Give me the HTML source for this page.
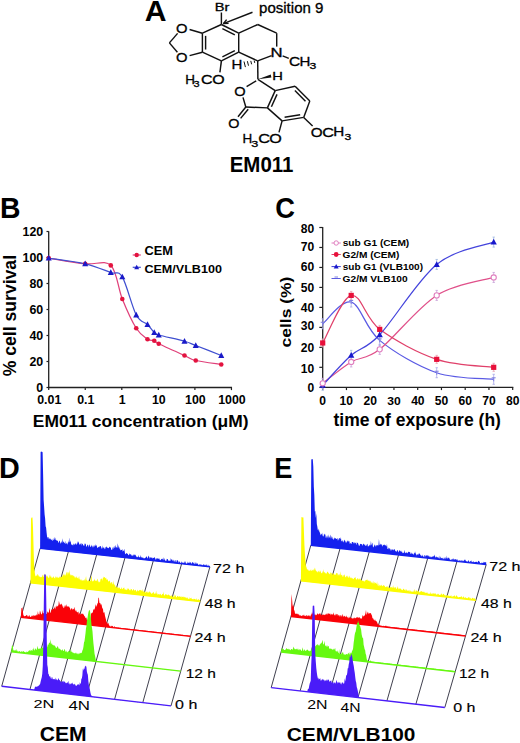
<!DOCTYPE html>
<html><head><meta charset="utf-8"><style>
html,body{margin:0;padding:0;background:#fff;width:520px;height:743px;overflow:hidden}
svg{display:block;font-family:"Liberation Sans", sans-serif}
</style></head><body>
<svg width="520" height="743" viewBox="0 0 520 743">
<rect width="520" height="743" fill="#fff"/>
<text transform="translate(144.75,21.10) scale(1.042,1)" font-size="28.95" font-weight="bold" fill="#000">A</text>
<text transform="translate(214.79,10.50) scale(1.289,1)" font-size="11.35" stroke="#000" stroke-width="0.3" fill="#000">Br</text>
<text transform="translate(259.02,12.71) scale(1.080,1)" font-size="13.94" stroke="#000" stroke-width="0.3" fill="#000">position 9</text>
<text transform="translate(229.72,172.49) scale(0.952,1)" font-size="21.48" font-weight="bold" fill="#000">EM011</text>
<line x1="221.40" y1="24.50" x2="238.70" y2="33.20" stroke="#111" stroke-width="1.45" />
<line x1="238.70" y1="33.20" x2="238.70" y2="52.20" stroke="#111" stroke-width="1.45" />
<line x1="238.70" y1="52.20" x2="221.40" y2="60.90" stroke="#111" stroke-width="1.45" />
<line x1="221.40" y1="60.90" x2="202.40" y2="52.20" stroke="#111" stroke-width="1.45" />
<line x1="202.40" y1="52.20" x2="202.40" y2="33.20" stroke="#111" stroke-width="1.45" />
<line x1="202.40" y1="33.20" x2="221.40" y2="24.50" stroke="#111" stroke-width="1.45" />
<line x1="205.60" y1="35.86" x2="205.60" y2="49.54" stroke="#111" stroke-width="1.45" />
<line x1="222.38" y1="28.58" x2="234.84" y2="34.84" stroke="#111" stroke-width="1.45" />
<line x1="234.84" y1="50.56" x2="222.38" y2="56.82" stroke="#111" stroke-width="1.45" />
<line x1="202.40" y1="33.20" x2="189.60" y2="29.50" stroke="#111" stroke-width="1.45" />
<line x1="202.40" y1="52.20" x2="189.60" y2="55.60" stroke="#111" stroke-width="1.45" />
<line x1="177.60" y1="33.40" x2="169.40" y2="42.90" stroke="#111" stroke-width="1.45" />
<line x1="169.40" y1="42.90" x2="177.40" y2="52.20" stroke="#111" stroke-width="1.45" />
<text transform="translate(175.90,32.67) scale(1.151,1)" font-size="12.86" stroke="#000" stroke-width="0.3" fill="#000">O</text>
<text transform="translate(175.90,61.97) scale(1.151,1)" font-size="12.86" stroke="#000" stroke-width="0.3" fill="#000">O</text>
<line x1="221.40" y1="24.50" x2="221.40" y2="12.50" stroke="#111" stroke-width="1.45" />
<line x1="252.50" y1="12.30" x2="223.40" y2="23.60" stroke="#111" stroke-width="1.45" />
<line x1="223.40" y1="23.60" x2="226.60" y2="19.60" stroke="#111" stroke-width="1.45" />
<line x1="223.40" y1="23.60" x2="228.60" y2="23.40" stroke="#111" stroke-width="1.45" />
<line x1="221.40" y1="60.90" x2="219.90" y2="72.30" stroke="#111" stroke-width="1.45" />
<text transform="translate(185.19,84.20) scale(1.085,1)" font-size="12.40" stroke="#000" stroke-width="0.3">H</text>
<text transform="translate(193.59,87.10) scale(1.190,1)" font-size="9.20" stroke="#000" stroke-width="0.3">3</text>
<text transform="translate(201.09,84.30) scale(1.301,1)" font-size="12.40" stroke="#000" stroke-width="0.3">C</text>
<text transform="translate(212.14,84.35) scale(1.288,1)" font-size="12.40" stroke="#000" stroke-width="0.3">O</text>
<line x1="238.70" y1="33.20" x2="257.70" y2="24.50" stroke="#111" stroke-width="1.45" />
<line x1="257.70" y1="24.50" x2="276.70" y2="33.20" stroke="#111" stroke-width="1.45" />
<line x1="276.70" y1="33.20" x2="276.70" y2="46.60" stroke="#111" stroke-width="1.45" />
<text transform="translate(270.52,56.70) scale(1.334,1)" font-size="12.51" stroke="#000" stroke-width="0.3" fill="#000">N</text>
<line x1="271.60" y1="55.60" x2="257.70" y2="60.90" stroke="#111" stroke-width="1.45" />
<line x1="238.70" y1="52.20" x2="257.70" y2="60.90" stroke="#111" stroke-width="1.45" />
<line x1="282.60" y1="55.80" x2="288.80" y2="58.40" stroke="#111" stroke-width="1.45" />
<text transform="translate(289.03,66.10) scale(1.250,1)" font-size="12.40" stroke="#000" stroke-width="0.3">C</text>
<text transform="translate(299.56,66.00) scale(1.215,1)" font-size="12.40" stroke="#000" stroke-width="0.3">H</text>
<text transform="translate(309.54,68.80) scale(1.327,1)" font-size="9.20" stroke="#000" stroke-width="0.3">3</text>
<line x1="254.16" y1="60.60" x2="254.74" y2="62.90" stroke="#111" stroke-width="1.0" />
<line x1="250.77" y1="60.90" x2="251.62" y2="64.30" stroke="#111" stroke-width="1.0" />
<line x1="247.39" y1="61.20" x2="248.51" y2="65.70" stroke="#111" stroke-width="1.0" />
<line x1="244.00" y1="61.50" x2="245.40" y2="67.10" stroke="#111" stroke-width="1.0" />
<text transform="translate(231.56,69.30) scale(1.177,1)" font-size="12.80" stroke="#000" stroke-width="0.3" fill="#000">H</text>
<line x1="257.70" y1="60.90" x2="257.90" y2="79.30" stroke="#111" stroke-width="1.45" />
<polygon points="257.9,79.3 270.8,74.4 271.4,77.6" fill="#111"/>
<text transform="translate(272.29,79.90) scale(1.248,1)" font-size="11.78" stroke="#000" stroke-width="0.3" fill="#000">H</text>
<line x1="256.20" y1="80.80" x2="246.60" y2="86.60" stroke="#111" stroke-width="1.45" />
<text transform="translate(234.30,95.67) scale(1.127,1)" font-size="13.00" stroke="#000" stroke-width="0.3" fill="#000">O</text>
<line x1="243.00" y1="97.40" x2="245.80" y2="107.00" stroke="#111" stroke-width="1.45" />
<line x1="245.80" y1="107.00" x2="267.40" y2="107.90" stroke="#111" stroke-width="1.45" />
<line x1="245.80" y1="107.00" x2="238.00" y2="116.70" stroke="#111" stroke-width="1.45" />
<line x1="248.20" y1="109.20" x2="240.60" y2="118.40" stroke="#111" stroke-width="1.45" />
<text transform="translate(228.32,127.57) scale(1.141,1)" font-size="12.58" stroke="#000" stroke-width="0.3" fill="#000">O</text>
<line x1="275.20" y1="90.60" x2="295.10" y2="86.20" stroke="#111" stroke-width="1.45" />
<line x1="295.10" y1="86.20" x2="309.80" y2="101.00" stroke="#111" stroke-width="1.45" />
<line x1="309.80" y1="101.00" x2="303.70" y2="117.40" stroke="#111" stroke-width="1.45" />
<line x1="303.70" y1="117.40" x2="282.10" y2="120.90" stroke="#111" stroke-width="1.45" />
<line x1="282.10" y1="120.90" x2="267.40" y2="107.90" stroke="#111" stroke-width="1.45" />
<line x1="267.40" y1="107.90" x2="275.20" y2="90.60" stroke="#111" stroke-width="1.45" />
<line x1="271.41" y1="106.79" x2="277.03" y2="94.34" stroke="#111" stroke-width="1.45" />
<line x1="294.89" y1="90.53" x2="305.47" y2="101.18" stroke="#111" stroke-width="1.45" />
<line x1="300.16" y1="114.73" x2="284.61" y2="117.25" stroke="#111" stroke-width="1.45" />
<line x1="257.90" y1="79.30" x2="275.20" y2="90.60" stroke="#111" stroke-width="1.45" />
<line x1="282.10" y1="120.90" x2="279.00" y2="132.40" stroke="#111" stroke-width="1.45" />
<text transform="translate(242.39,143.30) scale(1.085,1)" font-size="12.40" stroke="#000" stroke-width="0.3">H</text>
<text transform="translate(251.13,146.70) scale(1.373,1)" font-size="9.20" stroke="#000" stroke-width="0.3">3</text>
<text transform="translate(258.18,143.40) scale(1.326,1)" font-size="12.40" stroke="#000" stroke-width="0.3">C</text>
<text transform="translate(269.23,143.45) scale(1.300,1)" font-size="12.40" stroke="#000" stroke-width="0.3">O</text>
<line x1="303.70" y1="117.40" x2="312.60" y2="126.00" stroke="#111" stroke-width="1.45" />
<text transform="translate(310.78,136.60) scale(1.229,1)" font-size="12.40" stroke="#000" stroke-width="0.3">O</text>
<text transform="translate(322.19,136.50) scale(1.313,1)" font-size="12.40" stroke="#000" stroke-width="0.3">C</text>
<text transform="translate(333.34,136.30) scale(1.230,1)" font-size="12.40" stroke="#000" stroke-width="0.3">H</text>
<text transform="translate(344.54,139.80) scale(1.327,1)" font-size="9.20" stroke="#000" stroke-width="0.3">3</text>
<text transform="translate(0.09,218.10) scale(0.951,1)" font-size="29.82" font-weight="bold" fill="#000">B</text>
<line x1="48.70" y1="231.20" x2="48.70" y2="388.10" stroke="#222" stroke-width="1.3" />
<line x1="48.10" y1="387.50" x2="232.05" y2="387.50" stroke="#222" stroke-width="1.3" />
<line x1="46.50" y1="387.50" x2="48.70" y2="387.50" stroke="#222" stroke-width="1.2" />
<text transform="translate(36.31,391.97) scale(0.986,1)" font-size="12.58" font-weight="bold" fill="#000">0</text>
<line x1="46.50" y1="361.50" x2="48.70" y2="361.50" stroke="#222" stroke-width="1.2" />
<text transform="translate(29.43,365.97) scale(0.986,1)" font-size="12.58" font-weight="bold" fill="#000">20</text>
<line x1="46.50" y1="335.50" x2="48.70" y2="335.50" stroke="#222" stroke-width="1.2" />
<text transform="translate(29.43,339.97) scale(0.986,1)" font-size="12.58" font-weight="bold" fill="#000">40</text>
<line x1="46.50" y1="309.50" x2="48.70" y2="309.50" stroke="#222" stroke-width="1.2" />
<text transform="translate(29.43,313.97) scale(0.986,1)" font-size="12.58" font-weight="bold" fill="#000">60</text>
<line x1="46.50" y1="283.50" x2="48.70" y2="283.50" stroke="#222" stroke-width="1.2" />
<text transform="translate(29.43,287.97) scale(0.986,1)" font-size="12.58" font-weight="bold" fill="#000">80</text>
<line x1="46.50" y1="257.50" x2="48.70" y2="257.50" stroke="#222" stroke-width="1.2" />
<text transform="translate(22.52,261.97) scale(0.986,1)" font-size="12.58" font-weight="bold" fill="#000">100</text>
<line x1="46.50" y1="231.50" x2="48.70" y2="231.50" stroke="#222" stroke-width="1.2" />
<text transform="translate(22.52,235.97) scale(0.986,1)" font-size="12.58" font-weight="bold" fill="#000">120</text>
<line x1="48.70" y1="387.50" x2="48.70" y2="390.10" stroke="#222" stroke-width="1.2" />
<text transform="translate(37.16,404.27) scale(0.986,1)" font-size="12.58" font-weight="bold" fill="#000">0.01</text>
<line x1="85.25" y1="387.50" x2="85.25" y2="390.10" stroke="#222" stroke-width="1.2" />
<text transform="translate(77.15,404.27) scale(0.986,1)" font-size="12.58" font-weight="bold" fill="#000">0.1</text>
<line x1="121.80" y1="387.50" x2="121.80" y2="390.10" stroke="#222" stroke-width="1.2" />
<text transform="translate(118.74,404.40) scale(0.958,1)" font-size="12.95" font-weight="bold" fill="#000">1</text>
<line x1="158.35" y1="387.50" x2="158.35" y2="390.10" stroke="#222" stroke-width="1.2" />
<text transform="translate(151.93,404.27) scale(0.986,1)" font-size="12.58" font-weight="bold" fill="#000">10</text>
<line x1="194.90" y1="387.50" x2="194.90" y2="390.10" stroke="#222" stroke-width="1.2" />
<text transform="translate(185.02,404.27) scale(0.986,1)" font-size="12.58" font-weight="bold" fill="#000">100</text>
<line x1="231.45" y1="387.50" x2="231.45" y2="390.10" stroke="#222" stroke-width="1.2" />
<text transform="translate(218.13,404.27) scale(0.986,1)" font-size="12.58" font-weight="bold" fill="#000">1000</text>
<text transform="translate(32.82,427.40) scale(1.003,1)" font-size="17.37" font-weight="bold" fill="#000">EM011 concentration (μM)</text>
<text transform="translate(15.92,376.34) rotate(-90) scale(0.981,1)" font-size="17.96" font-weight="bold" fill="#000">% cell survival</text>
<path d="M48.70,258.10 C54.78,259.05 74.85,262.58 85.20,263.80 C95.55,265.02 104.62,259.53 110.80,265.40 C116.98,271.27 118.06,288.52 122.30,299.00 C126.54,309.48 132.05,321.54 136.25,328.25 C140.45,334.96 144.50,337.17 147.50,339.25 C150.50,341.33 152.38,340.00 154.25,340.75 C156.12,341.50 153.71,341.29 158.75,343.75 C163.79,346.21 178.33,352.71 184.50,355.50 C190.67,358.29 189.62,359.00 195.75,360.50 C201.88,362.00 217.00,363.83 221.25,364.50" fill="none" stroke="#e0407a" stroke-width="1.25"/>
<path d="M48.70,258.10 C54.78,259.05 74.85,261.40 85.20,263.80 C95.55,266.20 104.62,270.32 110.80,272.50 C116.98,274.68 118.06,269.82 122.30,276.90 C126.54,283.98 132.05,307.07 136.25,315.00 C140.45,322.93 144.50,321.58 147.50,324.50 C150.50,327.42 152.38,330.75 154.25,332.50 C156.12,334.25 153.71,333.54 158.75,335.00 C163.79,336.46 178.33,339.50 184.50,341.25 C190.67,343.00 189.62,343.12 195.75,345.50 C201.88,347.88 217.00,353.83 221.25,355.50" fill="none" stroke="#3f4fd0" stroke-width="1.25"/>
<circle cx="48.70" cy="258.10" r="2.3" fill="#e3133f"/>
<circle cx="85.20" cy="263.80" r="2.3" fill="#e3133f"/>
<circle cx="110.80" cy="265.40" r="2.3" fill="#e3133f"/>
<circle cx="122.30" cy="299.00" r="2.3" fill="#e3133f"/>
<circle cx="136.25" cy="328.25" r="2.3" fill="#e3133f"/>
<circle cx="147.50" cy="339.25" r="2.3" fill="#e3133f"/>
<circle cx="154.25" cy="340.75" r="2.3" fill="#e3133f"/>
<circle cx="158.75" cy="343.75" r="2.3" fill="#e3133f"/>
<circle cx="184.50" cy="355.50" r="2.3" fill="#e3133f"/>
<circle cx="195.75" cy="360.50" r="2.3" fill="#e3133f"/>
<circle cx="221.25" cy="364.50" r="2.3" fill="#e3133f"/>
<polygon points="48.70,254.90 51.74,260.50 45.66,260.50" fill="#1a1ac8"/>
<polygon points="85.20,260.60 88.24,266.20 82.16,266.20" fill="#1a1ac8"/>
<polygon points="110.80,269.30 113.84,274.90 107.76,274.90" fill="#1a1ac8"/>
<polygon points="122.30,273.70 125.34,279.30 119.26,279.30" fill="#1a1ac8"/>
<polygon points="136.25,311.80 139.29,317.40 133.21,317.40" fill="#1a1ac8"/>
<polygon points="147.50,321.30 150.54,326.90 144.46,326.90" fill="#1a1ac8"/>
<polygon points="154.25,329.30 157.29,334.90 151.21,334.90" fill="#1a1ac8"/>
<polygon points="158.75,331.80 161.79,337.40 155.71,337.40" fill="#1a1ac8"/>
<polygon points="184.50,338.05 187.54,343.65 181.46,343.65" fill="#1a1ac8"/>
<polygon points="195.75,342.30 198.79,347.90 192.71,347.90" fill="#1a1ac8"/>
<polygon points="221.25,352.30 224.29,357.90 218.21,357.90" fill="#1a1ac8"/>
<line x1="132.70" y1="255.00" x2="140.80" y2="255.00" stroke="#e0407a" stroke-width="1.2" />
<circle cx="136.70" cy="255.00" r="2.2" fill="#e3133f"/>
<line x1="132.70" y1="267.30" x2="140.80" y2="267.30" stroke="#3f4fd0" stroke-width="1.2" />
<polygon points="136.70,264.70 139.17,269.25 134.23,269.25" fill="#1a1ac8"/>
<text transform="translate(144.39,254.88) scale(1.067,1)" font-size="12.01" font-weight="bold" fill="#000">CEM</text>
<text transform="translate(144.40,272.56) scale(1.065,1)" font-size="11.81" font-weight="bold" fill="#000">CEM/VLB100</text>
<text transform="translate(275.21,218.40) scale(0.916,1)" font-size="29.82" font-weight="bold" fill="#000">C</text>
<line x1="322.70" y1="227.10" x2="322.70" y2="387.90" stroke="#222" stroke-width="1.3" />
<line x1="322.10" y1="387.30" x2="513.30" y2="387.30" stroke="#222" stroke-width="1.3" />
<line x1="319.30" y1="387.30" x2="322.70" y2="387.30" stroke="#222" stroke-width="1.2" />
<text transform="translate(307.57,391.88) scale(0.995,1)" font-size="12.16" font-weight="bold" fill="#000">0</text>
<line x1="319.30" y1="367.32" x2="322.70" y2="367.32" stroke="#222" stroke-width="1.2" />
<text transform="translate(300.85,372.83) scale(0.995,1)" font-size="12.16" font-weight="bold" fill="#000">10</text>
<line x1="319.30" y1="347.35" x2="322.70" y2="347.35" stroke="#222" stroke-width="1.2" />
<text transform="translate(300.85,352.38) scale(0.995,1)" font-size="12.16" font-weight="bold" fill="#000">20</text>
<line x1="319.30" y1="327.38" x2="322.70" y2="327.38" stroke="#222" stroke-width="1.2" />
<text transform="translate(300.85,330.45) scale(0.999,1)" font-size="12.11" font-weight="bold" fill="#000">30</text>
<line x1="319.30" y1="307.40" x2="322.70" y2="307.40" stroke="#222" stroke-width="1.2" />
<text transform="translate(300.85,312.28) scale(0.995,1)" font-size="12.16" font-weight="bold" fill="#000">40</text>
<line x1="319.30" y1="287.43" x2="322.70" y2="287.43" stroke="#222" stroke-width="1.2" />
<text transform="translate(300.85,291.68) scale(0.995,1)" font-size="12.16" font-weight="bold" fill="#000">50</text>
<line x1="319.30" y1="267.45" x2="322.70" y2="267.45" stroke="#222" stroke-width="1.2" />
<text transform="translate(300.85,271.13) scale(0.995,1)" font-size="12.16" font-weight="bold" fill="#000">60</text>
<line x1="319.30" y1="247.47" x2="322.70" y2="247.47" stroke="#222" stroke-width="1.2" />
<text transform="translate(300.85,251.48) scale(0.995,1)" font-size="12.16" font-weight="bold" fill="#000">70</text>
<line x1="319.30" y1="227.50" x2="322.70" y2="227.50" stroke="#222" stroke-width="1.2" />
<text transform="translate(300.85,232.63) scale(0.995,1)" font-size="12.16" font-weight="bold" fill="#000">80</text>
<line x1="322.70" y1="387.30" x2="322.70" y2="390.10" stroke="#222" stroke-width="1.2" />
<text transform="translate(319.34,404.88) scale(1.019,1)" font-size="11.87" font-weight="bold" fill="#000">0</text>
<line x1="346.45" y1="387.30" x2="346.45" y2="390.10" stroke="#222" stroke-width="1.2" />
<text transform="translate(339.60,404.88) scale(1.019,1)" font-size="11.87" font-weight="bold" fill="#000">10</text>
<line x1="370.20" y1="387.30" x2="370.20" y2="390.10" stroke="#222" stroke-width="1.2" />
<text transform="translate(363.51,404.88) scale(1.019,1)" font-size="11.87" font-weight="bold" fill="#000">20</text>
<line x1="393.95" y1="387.30" x2="393.95" y2="390.10" stroke="#222" stroke-width="1.2" />
<text transform="translate(387.34,404.85) scale(1.023,1)" font-size="11.83" font-weight="bold" fill="#000">30</text>
<line x1="417.70" y1="387.30" x2="417.70" y2="390.10" stroke="#222" stroke-width="1.2" />
<text transform="translate(411.14,404.88) scale(1.019,1)" font-size="11.87" font-weight="bold" fill="#000">40</text>
<line x1="441.45" y1="387.30" x2="441.45" y2="390.10" stroke="#222" stroke-width="1.2" />
<text transform="translate(434.78,404.88) scale(1.019,1)" font-size="11.87" font-weight="bold" fill="#000">50</text>
<line x1="465.20" y1="387.30" x2="465.20" y2="390.10" stroke="#222" stroke-width="1.2" />
<text transform="translate(458.50,404.88) scale(1.019,1)" font-size="11.87" font-weight="bold" fill="#000">60</text>
<line x1="488.95" y1="387.30" x2="488.95" y2="390.10" stroke="#222" stroke-width="1.2" />
<text transform="translate(482.22,404.88) scale(1.019,1)" font-size="11.87" font-weight="bold" fill="#000">70</text>
<line x1="512.70" y1="387.30" x2="512.70" y2="390.10" stroke="#222" stroke-width="1.2" />
<text transform="translate(506.03,404.88) scale(1.019,1)" font-size="11.87" font-weight="bold" fill="#000">80</text>
<text transform="translate(333.48,425.85) scale(0.997,1)" font-size="17.59" font-weight="bold" fill="#000">time of exposure (h)</text>
<text transform="translate(291.06,347.40) rotate(-90) scale(1.155,1)" font-size="15.12" font-weight="bold" fill="#000">cells (%)</text>
<path d="M322.70,323.78 C327.45,320.15 341.70,299.24 351.20,302.01 C360.70,304.77 365.45,328.57 379.70,340.36 C393.95,352.14 417.70,366.23 436.70,372.72 C455.70,379.21 484.20,378.21 493.70,379.31" fill="none" stroke="#5a5ae4" stroke-width="1.25"/>
<path d="M322.70,383.31 C327.45,379.74 341.70,367.59 351.20,361.93 C360.70,356.27 365.45,360.43 379.70,349.35 C393.95,338.26 417.70,307.40 436.70,295.42 C455.70,283.43 484.20,280.43 493.70,277.44" fill="none" stroke="#e0508a" stroke-width="1.25"/>
<path d="M322.70,342.96 C327.45,335.03 341.70,297.68 351.20,295.42 C360.70,293.15 365.45,318.72 379.70,329.37 C393.95,340.03 417.70,353.01 436.70,359.34 C455.70,365.66 484.20,365.99 493.70,367.32" fill="none" stroke="#e0406a" stroke-width="1.25"/>
<path d="M322.70,385.30 C327.45,380.31 341.70,363.76 351.20,355.34 C360.70,346.92 365.45,349.91 379.70,334.77 C393.95,319.62 417.70,279.90 436.70,264.45 C455.70,249.01 484.20,245.81 493.70,242.08" fill="none" stroke="#4444dc" stroke-width="1.25"/>
<line x1="322.70" y1="378.31" x2="322.70" y2="388.31" stroke="#c8a0d8" stroke-width="0.8" />
<line x1="321.50" y1="378.31" x2="323.90" y2="378.31" stroke="#c8a0d8" stroke-width="0.8" />
<line x1="321.50" y1="388.31" x2="323.90" y2="388.31" stroke="#c8a0d8" stroke-width="0.8" />
<line x1="351.20" y1="356.93" x2="351.20" y2="366.93" stroke="#c8a0d8" stroke-width="0.8" />
<line x1="350.00" y1="356.93" x2="352.40" y2="356.93" stroke="#c8a0d8" stroke-width="0.8" />
<line x1="350.00" y1="366.93" x2="352.40" y2="366.93" stroke="#c8a0d8" stroke-width="0.8" />
<line x1="379.70" y1="344.35" x2="379.70" y2="354.35" stroke="#c8a0d8" stroke-width="0.8" />
<line x1="378.50" y1="344.35" x2="380.90" y2="344.35" stroke="#c8a0d8" stroke-width="0.8" />
<line x1="378.50" y1="354.35" x2="380.90" y2="354.35" stroke="#c8a0d8" stroke-width="0.8" />
<line x1="436.70" y1="290.42" x2="436.70" y2="300.42" stroke="#c8a0d8" stroke-width="0.8" />
<line x1="435.50" y1="290.42" x2="437.90" y2="290.42" stroke="#c8a0d8" stroke-width="0.8" />
<line x1="435.50" y1="300.42" x2="437.90" y2="300.42" stroke="#c8a0d8" stroke-width="0.8" />
<line x1="493.70" y1="272.44" x2="493.70" y2="282.44" stroke="#c8a0d8" stroke-width="0.8" />
<line x1="492.50" y1="272.44" x2="494.90" y2="272.44" stroke="#c8a0d8" stroke-width="0.8" />
<line x1="492.50" y1="282.44" x2="494.90" y2="282.44" stroke="#c8a0d8" stroke-width="0.8" />
<line x1="322.70" y1="318.78" x2="322.70" y2="328.78" stroke="#a8a8e8" stroke-width="0.8" />
<line x1="321.50" y1="318.78" x2="323.90" y2="318.78" stroke="#a8a8e8" stroke-width="0.8" />
<line x1="321.50" y1="328.78" x2="323.90" y2="328.78" stroke="#a8a8e8" stroke-width="0.8" />
<line x1="351.20" y1="297.01" x2="351.20" y2="307.01" stroke="#a8a8e8" stroke-width="0.8" />
<line x1="350.00" y1="297.01" x2="352.40" y2="297.01" stroke="#a8a8e8" stroke-width="0.8" />
<line x1="350.00" y1="307.01" x2="352.40" y2="307.01" stroke="#a8a8e8" stroke-width="0.8" />
<line x1="379.70" y1="335.36" x2="379.70" y2="345.36" stroke="#a8a8e8" stroke-width="0.8" />
<line x1="378.50" y1="335.36" x2="380.90" y2="335.36" stroke="#a8a8e8" stroke-width="0.8" />
<line x1="378.50" y1="345.36" x2="380.90" y2="345.36" stroke="#a8a8e8" stroke-width="0.8" />
<line x1="436.70" y1="367.72" x2="436.70" y2="377.72" stroke="#a8a8e8" stroke-width="0.8" />
<line x1="435.50" y1="367.72" x2="437.90" y2="367.72" stroke="#a8a8e8" stroke-width="0.8" />
<line x1="435.50" y1="377.72" x2="437.90" y2="377.72" stroke="#a8a8e8" stroke-width="0.8" />
<line x1="493.70" y1="374.31" x2="493.70" y2="384.31" stroke="#a8a8e8" stroke-width="0.8" />
<line x1="492.50" y1="374.31" x2="494.90" y2="374.31" stroke="#a8a8e8" stroke-width="0.8" />
<line x1="492.50" y1="384.31" x2="494.90" y2="384.31" stroke="#a8a8e8" stroke-width="0.8" />
<line x1="322.70" y1="380.30" x2="322.70" y2="390.30" stroke="#a0b8e0" stroke-width="0.8" />
<line x1="321.50" y1="380.30" x2="323.90" y2="380.30" stroke="#a0b8e0" stroke-width="0.8" />
<line x1="321.50" y1="390.30" x2="323.90" y2="390.30" stroke="#a0b8e0" stroke-width="0.8" />
<line x1="351.20" y1="350.34" x2="351.20" y2="360.34" stroke="#a0b8e0" stroke-width="0.8" />
<line x1="350.00" y1="350.34" x2="352.40" y2="350.34" stroke="#a0b8e0" stroke-width="0.8" />
<line x1="350.00" y1="360.34" x2="352.40" y2="360.34" stroke="#a0b8e0" stroke-width="0.8" />
<line x1="379.70" y1="329.77" x2="379.70" y2="339.77" stroke="#a0b8e0" stroke-width="0.8" />
<line x1="378.50" y1="329.77" x2="380.90" y2="329.77" stroke="#a0b8e0" stroke-width="0.8" />
<line x1="378.50" y1="339.77" x2="380.90" y2="339.77" stroke="#a0b8e0" stroke-width="0.8" />
<line x1="436.70" y1="259.45" x2="436.70" y2="269.45" stroke="#a0b8e0" stroke-width="0.8" />
<line x1="435.50" y1="259.45" x2="437.90" y2="259.45" stroke="#a0b8e0" stroke-width="0.8" />
<line x1="435.50" y1="269.45" x2="437.90" y2="269.45" stroke="#a0b8e0" stroke-width="0.8" />
<line x1="493.70" y1="237.08" x2="493.70" y2="247.08" stroke="#a0b8e0" stroke-width="0.8" />
<line x1="492.50" y1="237.08" x2="494.90" y2="237.08" stroke="#a0b8e0" stroke-width="0.8" />
<line x1="492.50" y1="247.08" x2="494.90" y2="247.08" stroke="#a0b8e0" stroke-width="0.8" />
<line x1="322.70" y1="338.96" x2="322.70" y2="346.96" stroke="#e8a0b0" stroke-width="0.8" />
<line x1="321.50" y1="338.96" x2="323.90" y2="338.96" stroke="#e8a0b0" stroke-width="0.8" />
<line x1="321.50" y1="346.96" x2="323.90" y2="346.96" stroke="#e8a0b0" stroke-width="0.8" />
<line x1="351.20" y1="291.42" x2="351.20" y2="299.42" stroke="#e8a0b0" stroke-width="0.8" />
<line x1="350.00" y1="291.42" x2="352.40" y2="291.42" stroke="#e8a0b0" stroke-width="0.8" />
<line x1="350.00" y1="299.42" x2="352.40" y2="299.42" stroke="#e8a0b0" stroke-width="0.8" />
<line x1="379.70" y1="325.37" x2="379.70" y2="333.37" stroke="#e8a0b0" stroke-width="0.8" />
<line x1="378.50" y1="325.37" x2="380.90" y2="325.37" stroke="#e8a0b0" stroke-width="0.8" />
<line x1="378.50" y1="333.37" x2="380.90" y2="333.37" stroke="#e8a0b0" stroke-width="0.8" />
<line x1="436.70" y1="355.34" x2="436.70" y2="363.34" stroke="#e8a0b0" stroke-width="0.8" />
<line x1="435.50" y1="355.34" x2="437.90" y2="355.34" stroke="#e8a0b0" stroke-width="0.8" />
<line x1="435.50" y1="363.34" x2="437.90" y2="363.34" stroke="#e8a0b0" stroke-width="0.8" />
<line x1="493.70" y1="363.32" x2="493.70" y2="371.32" stroke="#e8a0b0" stroke-width="0.8" />
<line x1="492.50" y1="363.32" x2="494.90" y2="363.32" stroke="#e8a0b0" stroke-width="0.8" />
<line x1="492.50" y1="371.32" x2="494.90" y2="371.32" stroke="#e8a0b0" stroke-width="0.8" />
<rect x="320.10" y="340.36" width="5.2" height="5.2" fill="#e8103a"/>
<rect x="348.60" y="292.81" width="5.2" height="5.2" fill="#e8103a"/>
<rect x="377.10" y="326.77" width="5.2" height="5.2" fill="#e8103a"/>
<rect x="434.10" y="356.74" width="5.2" height="5.2" fill="#e8103a"/>
<rect x="491.10" y="364.72" width="5.2" height="5.2" fill="#e8103a"/>
<polygon points="322.70,382.00 325.83,387.78 319.56,387.78" fill="#1818cc"/>
<polygon points="351.20,352.04 354.33,357.82 348.06,357.82" fill="#1818cc"/>
<polygon points="379.70,331.47 382.83,337.24 376.56,337.24" fill="#1818cc"/>
<polygon points="436.70,261.15 439.83,266.93 433.56,266.93" fill="#1818cc"/>
<polygon points="493.70,238.78 496.83,244.56 490.56,244.56" fill="#1818cc"/>
<circle cx="322.70" cy="383.31" r="2.6" fill="#fff" stroke="#e080c0" stroke-width="1.1"/>
<circle cx="351.20" cy="361.93" r="2.6" fill="#fff" stroke="#e080c0" stroke-width="1.1"/>
<circle cx="379.70" cy="349.35" r="2.6" fill="#fff" stroke="#e080c0" stroke-width="1.1"/>
<circle cx="436.70" cy="295.42" r="2.6" fill="#fff" stroke="#e080c0" stroke-width="1.1"/>
<circle cx="493.70" cy="277.44" r="2.6" fill="#fff" stroke="#e080c0" stroke-width="1.1"/>
<path d="M320.70,322.28 L324.70,322.28 M322.70,322.28 L322.70,325.78" stroke="#8080e0" stroke-width="1"/>
<path d="M349.20,300.51 L353.20,300.51 M351.20,300.51 L351.20,304.01" stroke="#8080e0" stroke-width="1"/>
<path d="M377.70,338.86 L381.70,338.86 M379.70,338.86 L379.70,342.36" stroke="#8080e0" stroke-width="1"/>
<path d="M434.70,371.22 L438.70,371.22 M436.70,371.22 L436.70,374.72" stroke="#8080e0" stroke-width="1"/>
<path d="M491.70,377.81 L495.70,377.81 M493.70,377.81 L493.70,381.31" stroke="#8080e0" stroke-width="1"/>
<line x1="331.50" y1="243.00" x2="340.80" y2="243.00" stroke="#e080c0" stroke-width="1.0" />
<circle cx="336.2" cy="243.0" r="2.2" fill="#fff" stroke="#e080c0" stroke-width="1"/>
<line x1="331.50" y1="254.50" x2="340.80" y2="254.50" stroke="#e0406a" stroke-width="1.0" />
<circle cx="336.2" cy="254.5" r="2.4" fill="#e8103a"/>
<line x1="331.50" y1="266.60" x2="340.80" y2="266.60" stroke="#3a3ad8" stroke-width="1.0" />
<polygon points="336.20,264.00 338.67,268.55 333.73,268.55" fill="#1818cc"/>
<line x1="331.50" y1="278.50" x2="340.80" y2="278.50" stroke="#5a5ae0" stroke-width="1.0" />
<path d="M334.5,277.0 L338,277.0" stroke="#8080e0" stroke-width="1"/>
<text transform="translate(342.64,246.28) scale(1.042,1)" font-size="9.76" font-weight="bold" fill="#000">sub G1 (CEM)</text>
<text transform="translate(342.59,258.00) scale(1.051,1)" font-size="9.65" font-weight="bold" fill="#000">G2/M (CEM)</text>
<text transform="translate(342.65,270.20) scale(1.043,1)" font-size="9.65" font-weight="bold" fill="#000">sub G1 (VLB100)</text>
<text transform="translate(342.59,281.81) scale(1.085,1)" font-size="9.40" font-weight="bold" fill="#000">G2/M VLB100</text>
<line x1="1.70" y1="686.30" x2="40.10" y2="548.40" stroke="#2a2a3a" stroke-width="0.9" />
<line x1="29.92" y1="689.57" x2="68.40" y2="551.48" stroke="#2a2a3a" stroke-width="0.9" />
<line x1="58.13" y1="692.83" x2="96.70" y2="554.57" stroke="#2a2a3a" stroke-width="0.9" />
<line x1="86.35" y1="696.10" x2="125.00" y2="557.65" stroke="#2a2a3a" stroke-width="0.9" />
<line x1="114.57" y1="699.37" x2="153.30" y2="560.73" stroke="#2a2a3a" stroke-width="0.9" />
<line x1="142.78" y1="702.63" x2="181.60" y2="563.82" stroke="#2a2a3a" stroke-width="0.9" />
<line x1="171.00" y1="705.90" x2="209.90" y2="566.90" stroke="#2a2a3a" stroke-width="0.9" />
<polygon points="40.10,548.40 40.10,548.40 40.60,451.69 41.10,451.97 41.60,451.36 42.10,452.18 42.60,451.63 43.11,474.17 43.61,499.68 44.11,506.85 44.61,514.53 45.11,518.60 45.61,526.32 46.11,527.68 46.61,532.87 47.11,536.88 47.61,537.27 48.11,539.43 48.62,536.68 49.12,537.96 49.62,539.11 50.12,539.54 50.62,538.34 51.12,540.13 51.62,539.81 52.12,538.68 52.62,541.19 53.12,540.31 53.62,539.76 54.12,536.73 54.63,539.99 55.13,537.45 55.63,540.12 56.13,539.76 56.63,540.55 57.13,541.08 57.63,540.13 58.13,541.65 58.63,543.35 59.13,541.12 59.63,540.52 60.14,542.30 60.64,543.80 61.14,543.01 61.64,541.04 62.14,543.15 62.64,538.32 63.14,542.13 63.64,541.15 64.14,543.34 64.64,543.10 65.14,540.85 65.65,543.95 66.15,543.80 66.65,542.49 67.15,544.82 67.65,543.47 68.15,541.28 68.65,543.04 69.15,537.54 69.65,542.15 70.15,542.15 70.65,540.28 71.15,544.17 71.66,544.81 72.16,544.61 72.66,545.17 73.16,545.53 73.66,543.33 74.16,544.79 74.66,544.43 75.16,542.63 75.66,544.17 76.16,544.14 76.66,545.08 77.17,541.03 77.67,544.20 78.17,541.30 78.67,542.61 79.17,543.76 79.67,545.09 80.17,543.60 80.67,543.64 81.17,545.84 81.67,542.99 82.17,543.74 82.68,544.06 83.18,544.98 83.68,545.71 84.18,546.10 84.68,543.50 85.18,543.65 85.68,543.65 86.18,546.52 86.68,546.68 87.18,545.13 87.68,544.38 88.18,545.16 88.69,547.39 89.19,544.33 89.69,545.01 90.19,547.24 90.69,546.73 91.19,544.38 91.69,546.61 92.19,545.46 92.69,547.79 93.19,544.93 93.69,547.86 94.20,544.79 94.70,547.23 95.20,543.94 95.70,546.25 96.20,545.25 96.70,545.56 97.20,548.11 97.70,547.87 98.20,546.84 98.70,547.54 99.20,545.77 99.71,547.54 100.21,545.93 100.71,545.91 101.21,547.39 101.71,549.35 102.21,545.25 102.71,548.84 103.21,546.80 103.71,548.33 104.21,547.51 104.71,549.23 105.22,548.73 105.72,546.79 106.22,547.62 106.72,546.32 107.22,547.49 107.72,547.90 108.22,548.16 108.72,548.10 109.22,547.29 109.72,546.40 110.22,547.89 110.72,546.86 111.23,549.63 111.73,549.85 112.23,549.83 112.73,546.90 113.23,549.15 113.73,546.98 114.23,545.89 114.73,548.34 115.23,547.43 115.73,544.83 116.23,548.12 116.74,546.84 117.24,548.32 117.74,543.32 118.24,545.86 118.74,547.13 119.24,549.55 119.74,546.84 120.24,549.80 120.74,550.49 121.24,550.03 121.74,549.90 122.25,548.88 122.75,551.80 123.25,550.72 123.75,550.69 124.25,548.65 124.75,551.88 125.25,554.11 125.75,554.32 126.25,553.17 126.75,553.00 127.25,554.09 127.75,553.39 128.26,554.92 128.76,555.26 129.26,554.56 129.76,553.26 130.26,554.25 130.76,554.32 131.26,556.11 131.76,554.56 132.26,554.95 132.76,556.27 133.26,555.40 133.77,554.29 134.27,555.47 134.77,554.16 135.27,554.75 135.77,555.42 136.27,556.16 136.77,557.30 137.27,556.80 137.77,557.39 138.27,555.05 138.77,556.92 139.28,556.96 139.78,557.44 140.28,557.19 140.78,555.09 141.28,557.38 141.78,557.25 142.28,558.26 142.78,556.88 143.28,557.79 143.78,558.45 144.28,558.26 144.78,558.20 145.29,557.96 145.79,557.13 146.29,556.81 146.79,556.21 147.29,557.95 147.79,558.56 148.29,555.38 148.79,556.45 149.29,557.00 149.79,558.86 150.29,557.83 150.80,556.99 151.30,557.72 151.80,557.50 152.30,558.77 152.80,557.41 153.30,558.08 153.80,557.94 154.30,557.10 154.80,557.72 155.30,558.42 155.80,559.90 156.31,559.11 156.81,558.05 157.31,558.09 157.81,558.89 158.31,559.00 158.81,558.22 159.31,558.38 159.81,559.88 160.31,559.80 160.81,560.58 161.31,558.84 161.82,558.90 162.32,559.44 162.82,558.37 163.32,560.52 163.82,557.31 164.32,558.82 164.82,559.99 165.32,560.76 165.82,560.83 166.32,561.10 166.82,558.78 167.32,559.24 167.83,559.11 168.33,561.11 168.83,560.42 169.33,560.48 169.83,561.11 170.33,561.05 170.83,558.11 171.33,559.72 171.83,559.53 172.33,559.66 172.83,561.27 173.34,559.50 173.84,561.43 174.34,561.65 174.84,560.16 175.34,559.93 175.84,561.95 176.34,562.23 176.84,560.05 177.34,560.53 177.84,560.30 178.34,561.42 178.85,562.92 179.35,561.83 179.85,561.33 180.35,563.08 180.85,562.96 181.35,562.39 181.85,561.30 182.35,562.75 182.85,562.70 183.35,562.48 183.85,563.22 184.35,561.12 184.86,563.17 185.36,560.98 185.86,563.53 186.36,563.73 186.86,563.79 187.36,563.37 187.86,561.60 188.36,563.04 188.86,562.78 189.36,563.13 189.86,561.62 190.37,563.02 190.87,562.04 191.37,563.82 191.87,563.50 192.37,561.96 192.87,562.20 193.37,562.79 193.87,563.54 194.37,564.61 194.87,562.35 195.37,562.62 195.88,564.33 196.38,563.70 196.88,562.55 197.38,563.46 197.88,564.07 198.38,565.04 198.88,564.84 199.38,563.71 199.88,565.21 200.38,563.86 200.88,565.25 201.38,564.14 201.89,565.23 202.39,565.48 202.89,564.67 203.39,564.20 203.89,564.75 204.39,565.46 204.89,564.21 205.39,565.81 205.89,564.42 206.39,565.68 206.89,563.83 207.40,566.03 207.90,565.39 208.40,566.09 208.90,564.60 209.40,566.19 209.90,565.94 209.90,566.90" fill="#1420ee"/>
<line x1="40.10" y1="548.40" x2="209.90" y2="566.90" stroke="#1420ee" stroke-width="1.4" />
<text transform="translate(213.06,572.80) scale(1.215,1)" font-size="13.24" stroke="#000" stroke-width="0.15" fill="#000">72 h</text>
<polygon points="30.50,582.88 30.50,582.88 31.00,518.82 31.50,517.79 32.00,517.26 32.50,517.82 33.00,527.55 33.50,545.30 34.00,563.52 34.50,570.13 35.00,574.29 35.51,576.32 36.01,576.37 36.51,575.87 37.01,574.40 37.51,574.10 38.01,576.24 38.51,574.40 39.01,577.28 39.51,576.25 40.01,576.45 40.51,577.53 41.01,576.50 41.51,577.27 42.01,577.06 42.51,575.20 43.01,574.40 43.51,576.71 44.01,577.33 44.51,573.34 45.01,575.51 45.52,577.74 46.02,575.28 46.52,575.88 47.02,577.20 47.52,575.33 48.02,577.56 48.52,577.44 49.02,578.47 49.52,575.68 50.02,574.60 50.52,577.17 51.02,575.70 51.52,577.92 52.02,577.19 52.52,578.19 53.02,576.48 53.52,576.40 54.02,577.82 54.52,577.74 55.03,578.66 55.53,576.57 56.03,576.61 56.53,577.97 57.03,576.23 57.53,577.81 58.03,577.51 58.53,577.70 59.03,577.82 59.53,577.01 60.03,576.08 60.53,578.08 61.03,577.16 61.53,576.55 62.03,576.79 62.53,576.29 63.03,573.93 63.53,575.75 64.03,573.25 64.54,575.83 65.04,574.18 65.54,576.03 66.04,573.31 66.54,571.51 67.04,575.56 67.54,572.35 68.04,572.37 68.54,572.47 69.04,574.70 69.54,569.82 70.04,573.94 70.54,575.11 71.04,575.97 71.54,574.81 72.04,575.03 72.54,575.07 73.04,576.64 73.54,575.19 74.04,576.25 74.55,576.59 75.05,578.40 75.55,576.54 76.05,578.17 76.55,576.11 77.05,577.65 77.55,578.38 78.05,576.66 78.55,579.55 79.05,575.68 79.55,579.24 80.05,579.51 80.55,579.54 81.05,581.04 81.55,579.07 82.05,580.91 82.55,580.05 83.05,580.84 83.55,579.68 84.06,581.07 84.56,578.87 85.06,580.89 85.56,578.53 86.06,575.91 86.56,580.44 87.06,579.74 87.56,581.29 88.06,581.14 88.56,579.18 89.06,581.38 89.56,580.74 90.06,580.84 90.56,581.34 91.06,576.76 91.56,576.03 92.06,581.93 92.56,580.58 93.06,581.43 93.57,580.59 94.07,580.39 94.57,578.38 95.07,581.05 95.57,580.22 96.07,581.27 96.57,580.69 97.07,579.48 97.57,578.40 98.07,582.71 98.57,580.47 99.07,582.64 99.57,581.39 100.07,582.00 100.57,578.92 101.07,579.33 101.57,578.55 102.07,578.43 102.57,580.95 103.07,576.28 103.58,578.06 104.08,577.16 104.58,577.05 105.08,577.78 105.58,578.43 106.08,577.52 106.58,579.80 107.08,579.95 107.58,578.68 108.08,581.10 108.58,581.86 109.08,580.65 109.58,580.43 110.08,581.79 110.58,583.73 111.08,582.39 111.58,582.23 112.08,582.01 112.58,584.37 113.09,584.49 113.59,580.26 114.09,585.80 114.59,584.00 115.09,585.34 115.59,587.24 116.09,586.24 116.59,586.91 117.09,588.34 117.59,587.09 118.09,587.08 118.59,588.43 119.09,587.50 119.59,587.48 120.09,588.90 120.59,588.67 121.09,589.15 121.59,587.10 122.09,588.46 122.59,589.60 123.10,588.17 123.60,588.02 124.10,587.30 124.60,589.25 125.10,589.88 125.60,588.97 126.10,589.99 126.60,590.19 127.10,587.74 127.60,589.82 128.10,589.07 128.60,588.31 129.10,589.75 129.60,590.53 130.10,588.62 130.60,590.79 131.10,588.88 131.60,588.96 132.10,589.95 132.61,591.01 133.11,589.18 133.61,589.01 134.11,590.64 134.61,590.26 135.11,590.11 135.61,589.87 136.11,591.09 136.61,591.70 137.11,591.19 137.61,589.39 138.11,591.11 138.61,591.18 139.11,589.73 139.61,590.38 140.11,589.70 140.61,590.15 141.11,590.18 141.61,590.61 142.12,591.79 142.62,588.87 143.12,592.20 143.62,590.40 144.12,592.48 144.62,591.18 145.12,591.25 145.62,592.97 146.12,592.27 146.62,591.15 147.12,593.19 147.62,591.06 148.12,593.23 148.62,592.03 149.12,591.55 149.62,591.59 150.12,592.90 150.62,591.92 151.12,593.13 151.62,593.98 152.13,593.37 152.63,593.23 153.13,591.77 153.63,592.13 154.13,594.32 154.63,593.35 155.13,593.66 155.63,593.24 156.13,590.50 156.63,594.05 157.13,592.89 157.63,594.90 158.13,593.73 158.63,594.59 159.13,594.25 159.63,594.55 160.13,594.56 160.63,593.58 161.13,595.15 161.64,595.30 162.14,593.81 162.64,594.06 163.14,594.71 163.64,591.52 164.14,595.81 164.64,595.29 165.14,594.76 165.64,593.87 166.14,595.01 166.64,594.35 167.14,594.70 167.64,595.57 168.14,594.35 168.64,594.68 169.14,595.52 169.64,595.24 170.14,595.61 170.64,596.24 171.15,596.15 171.65,594.87 172.15,596.65 172.65,596.29 173.15,596.78 173.65,596.77 174.15,593.73 174.65,597.13 175.15,595.01 175.65,595.70 176.15,597.10 176.65,597.39 177.15,596.24 177.65,595.84 178.15,596.62 178.65,596.78 179.15,596.51 179.65,596.24 180.15,597.07 180.65,596.36 181.16,597.71 181.66,596.17 182.16,596.69 182.66,596.81 183.16,597.43 183.66,596.42 184.16,596.76 184.66,597.21 185.16,597.78 185.66,597.36 186.16,597.30 186.66,598.57 187.16,597.19 187.66,597.96 188.16,599.13 188.66,598.90 189.16,597.07 189.66,599.19 190.16,598.19 190.67,598.32 191.17,597.62 191.67,598.71 192.17,599.26 192.67,598.89 193.17,599.61 193.67,598.84 194.17,598.63 194.67,599.10 195.17,599.33 195.67,599.71 196.17,598.05 196.67,599.86 197.17,599.51 197.67,600.21 198.17,598.65 198.67,599.54 199.17,600.19 199.67,599.95 200.18,598.89 200.18,601.65" fill="#fcfc00"/>
<line x1="30.50" y1="582.88" x2="200.18" y2="601.65" stroke="#fcfc00" stroke-width="1.4" />
<text transform="translate(204.84,607.57) scale(1.212,1)" font-size="13.06" stroke="#000" stroke-width="0.15" fill="#000">48 h</text>
<polygon points="20.90,617.35 20.90,617.35 21.40,608.21 21.90,608.00 22.40,607.13 22.90,611.86 23.40,615.45 23.90,615.42 24.40,616.55 24.90,615.95 25.40,615.99 25.90,615.77 26.40,615.29 26.90,614.73 27.40,616.93 27.90,614.96 28.40,616.90 28.90,615.78 29.40,615.12 29.90,616.78 30.40,617.03 30.90,616.84 31.40,615.36 31.90,617.02 32.40,615.81 32.90,615.53 33.40,615.09 33.90,616.45 34.40,615.47 34.90,615.58 35.40,615.15 35.90,615.86 36.40,613.98 36.90,615.85 37.40,614.77 37.91,610.99 38.41,614.59 38.91,613.92 39.41,614.65 39.91,610.61 40.41,611.81 40.91,613.58 41.41,614.51 41.91,613.93 42.41,609.92 42.91,613.46 43.41,612.70 43.91,613.76 44.41,612.82 44.91,613.74 45.41,613.32 45.91,614.02 46.41,613.63 46.91,613.95 47.41,611.55 47.91,611.81 48.41,613.01 48.91,611.88 49.41,607.72 49.91,610.35 50.41,612.80 50.91,612.69 51.41,609.36 51.91,609.96 52.41,608.81 52.91,609.53 53.41,608.80 53.91,608.40 54.41,608.00 54.91,606.40 55.41,609.38 55.91,605.78 56.41,607.30 56.91,605.35 57.41,606.81 57.91,605.78 58.41,605.30 58.91,600.76 59.41,603.07 59.91,604.96 60.41,603.87 60.91,605.27 61.41,604.05 61.91,603.38 62.41,607.18 62.91,604.99 63.41,607.87 63.91,608.17 64.41,604.97 64.91,607.98 65.41,604.87 65.91,606.64 66.41,603.92 66.91,606.98 67.41,606.34 67.91,606.38 68.41,607.05 68.91,605.84 69.41,607.71 69.91,607.40 70.41,610.45 70.91,608.76 71.41,608.55 71.92,608.28 72.42,608.99 72.92,609.97 73.42,608.80 73.92,609.07 74.42,606.75 74.92,609.94 75.42,611.56 75.92,609.52 76.42,611.16 76.92,612.07 77.42,612.54 77.92,612.03 78.42,611.60 78.92,614.69 79.42,613.51 79.92,612.45 80.42,615.37 80.92,613.05 81.42,614.13 81.92,613.48 82.42,614.30 82.92,613.18 83.42,614.48 83.92,614.91 84.42,616.83 84.92,615.72 85.42,618.30 85.92,617.82 86.42,617.56 86.92,620.06 87.42,620.79 87.92,620.22 88.42,621.50 88.92,622.46 89.42,622.70 89.92,622.36 90.42,620.01 90.92,614.79 91.42,612.80 91.92,613.13 92.42,612.70 92.92,611.74 93.42,609.11 93.92,609.84 94.42,609.56 94.92,607.90 95.42,605.86 95.92,604.35 96.42,606.88 96.92,605.34 97.42,603.41 97.92,602.96 98.42,597.84 98.92,597.66 99.42,603.29 99.92,602.73 100.42,603.44 100.92,605.05 101.42,604.00 101.92,606.38 102.42,608.71 102.92,608.37 103.42,613.10 103.92,612.37 104.42,612.37 104.92,615.55 105.42,617.49 105.93,619.43 106.43,622.27 106.93,622.60 107.43,622.76 107.93,624.17 108.43,622.47 108.93,625.03 109.43,626.45 109.93,625.06 110.43,626.81 110.93,626.87 111.43,625.46 111.93,626.48 112.43,625.74 112.93,626.30 113.43,627.15 113.93,626.70 114.43,626.10 114.93,627.25 115.43,627.37 115.93,627.28 116.43,627.33 116.93,627.39 117.43,627.45 117.93,627.50 118.43,627.56 118.93,627.62 119.43,627.67 119.93,627.73 120.43,627.79 120.93,627.84 121.43,627.90 121.93,627.96 122.43,628.01 122.93,628.07 123.43,628.12 123.93,628.18 124.43,628.24 124.93,628.29 125.43,628.35 125.93,628.41 126.43,628.46 126.93,628.52 127.43,628.58 127.93,628.63 128.43,628.69 128.93,628.75 129.43,628.80 129.93,628.86 130.43,628.92 130.93,628.97 131.43,629.03 131.93,629.09 132.43,629.14 132.93,629.20 133.43,629.26 133.93,629.31 134.43,629.37 134.93,629.43 135.43,629.48 135.93,629.54 136.43,629.59 136.93,629.65 137.43,629.71 137.93,629.76 138.43,629.82 138.93,629.88 139.43,629.93 139.94,629.99 140.44,630.05 140.94,630.10 141.44,630.16 141.94,630.22 142.44,630.27 142.94,630.33 143.44,630.39 143.94,630.44 144.44,630.50 144.94,630.56 145.44,630.61 145.94,630.67 146.44,630.73 146.94,630.78 147.44,630.84 147.94,630.89 148.44,630.95 148.94,631.01 149.44,631.06 149.94,631.12 150.44,631.18 150.94,631.23 151.44,631.29 151.94,631.35 152.44,631.40 152.94,631.46 153.44,631.52 153.94,631.57 154.44,631.63 154.94,631.69 155.44,631.74 155.94,631.80 156.44,631.86 156.94,631.91 157.44,631.97 157.94,632.03 158.44,632.08 158.94,632.14 159.44,632.19 159.94,632.25 160.44,632.31 160.94,632.36 161.44,632.42 161.94,632.48 162.44,632.53 162.94,632.59 163.44,632.65 163.94,632.70 164.44,632.76 164.94,632.82 165.44,632.87 165.94,632.93 166.44,632.99 166.94,633.04 167.44,633.10 167.94,633.16 168.44,633.21 168.94,633.27 169.44,633.33 169.94,633.38 170.44,633.44 170.94,633.50 171.44,633.55 171.94,633.61 172.44,633.66 172.94,633.72 173.44,633.78 173.95,633.83 174.45,633.89 174.95,633.95 175.45,634.00 175.95,634.06 176.45,634.12 176.95,634.17 177.45,634.23 177.95,634.29 178.45,634.34 178.95,634.40 179.45,634.46 179.95,634.51 180.45,634.57 180.95,634.63 181.45,634.68 181.95,634.74 182.45,634.80 182.95,634.85 183.45,634.91 183.95,634.96 184.45,635.02 184.95,635.08 185.45,635.13 185.95,635.19 186.45,635.25 186.95,635.30 187.45,635.36 187.95,635.42 188.45,635.47 188.95,635.53 189.45,635.59 189.95,635.64 190.45,635.70 190.45,636.40" fill="#fa0208"/>
<line x1="20.90" y1="617.35" x2="190.45" y2="636.40" stroke="#fa0208" stroke-width="1.4" />
<text transform="translate(194.50,642.20) scale(1.213,1)" font-size="13.24" stroke="#000" stroke-width="0.15" fill="#000">24 h</text>
<polygon points="11.30,651.82 11.30,651.82 11.80,646.31 12.30,645.96 12.80,644.67 13.31,651.01 13.81,649.78 14.31,650.26 14.81,650.80 15.31,650.65 15.81,649.39 16.31,651.37 16.81,648.78 17.32,651.11 17.82,651.77 18.32,651.16 18.82,651.95 19.32,650.92 19.82,651.19 20.32,651.72 20.82,651.96 21.33,650.71 21.83,651.95 22.33,651.20 22.83,651.98 23.33,651.35 23.83,651.01 24.33,652.01 24.83,652.00 25.34,652.82 25.84,652.31 26.34,651.26 26.84,652.85 27.34,651.68 27.84,651.95 28.34,650.52 28.84,651.80 29.35,649.81 29.85,650.79 30.35,651.34 30.85,649.55 31.35,650.52 31.85,650.28 32.35,650.95 32.85,648.73 33.36,649.69 33.86,647.19 34.36,650.21 34.86,650.42 35.36,648.28 35.86,648.76 36.36,650.37 36.86,648.88 37.37,645.71 37.87,647.93 38.37,648.81 38.87,649.27 39.37,648.85 39.87,648.27 40.37,649.35 40.87,647.67 41.38,647.36 41.88,648.42 42.38,647.09 42.88,648.18 43.38,647.03 43.88,648.40 44.38,647.75 44.88,646.61 45.39,646.47 45.89,648.50 46.39,645.83 46.89,647.74 47.39,646.42 47.89,644.31 48.39,644.88 48.89,643.30 49.40,642.70 49.90,642.43 50.40,639.14 50.90,644.03 51.40,644.35 51.90,642.61 52.40,645.10 52.90,644.86 53.41,645.66 53.91,644.87 54.41,645.38 54.91,645.97 55.41,646.45 55.91,647.75 56.41,648.12 56.91,647.55 57.42,646.10 57.92,646.80 58.42,647.84 58.92,649.16 59.42,648.67 59.92,648.50 60.42,649.61 60.92,650.11 61.43,649.90 61.93,651.10 62.43,648.95 62.93,649.97 63.43,650.89 63.93,651.04 64.43,648.84 64.93,649.67 65.44,651.19 65.94,652.25 66.44,650.19 66.94,652.49 67.44,652.13 67.94,651.54 68.44,651.10 68.94,651.42 69.45,651.46 69.95,651.50 70.45,651.26 70.95,648.74 71.45,652.31 71.95,651.44 72.45,652.94 72.95,651.87 73.46,653.22 73.96,653.08 74.46,653.56 74.96,652.94 75.46,653.60 75.96,652.31 76.46,653.40 76.96,653.82 77.47,653.18 77.97,654.48 78.47,653.94 78.97,652.68 79.47,654.36 79.97,652.44 80.47,653.55 80.97,652.70 81.48,653.26 81.98,652.03 82.48,650.26 82.98,649.36 83.48,646.45 83.98,642.46 84.48,641.35 84.98,637.44 85.49,633.56 85.99,628.36 86.49,626.08 86.99,620.35 87.49,618.14 87.99,614.65 88.49,612.09 88.99,610.43 89.50,609.70 90.00,611.13 90.50,614.33 91.00,619.20 91.50,625.03 92.00,627.74 92.50,631.56 93.00,638.45 93.51,643.94 94.01,648.32 94.51,653.61 95.01,655.85 95.51,658.46 96.01,661.49 96.51,661.54 97.02,661.60 97.52,661.66 98.02,661.72 98.52,661.77 99.02,661.83 99.52,661.89 100.02,661.94 100.52,662.00 101.03,662.06 101.53,662.12 102.03,662.17 102.53,662.23 103.03,662.29 103.53,662.35 104.03,662.40 104.53,662.46 105.04,662.52 105.54,662.57 106.04,662.63 106.54,662.69 107.04,662.75 107.54,662.80 108.04,662.86 108.54,662.92 109.05,662.97 109.55,663.03 110.05,663.09 110.55,663.15 111.05,663.20 111.55,663.26 112.05,663.32 112.55,663.37 113.06,663.43 113.56,663.49 114.06,663.55 114.56,663.60 115.06,663.66 115.56,663.72 116.06,663.77 116.56,663.83 117.07,663.89 117.57,663.95 118.07,664.00 118.57,664.06 119.07,664.12 119.57,664.17 120.07,664.23 120.57,664.29 121.08,664.35 121.58,664.40 122.08,664.46 122.58,664.52 123.08,664.57 123.58,664.63 124.08,664.69 124.58,664.75 125.09,664.80 125.59,664.86 126.09,664.92 126.59,664.98 127.09,665.03 127.59,665.09 128.09,665.15 128.59,665.20 129.10,665.26 129.60,665.32 130.10,665.38 130.60,665.43 131.10,665.49 131.60,665.55 132.10,665.60 132.60,665.66 133.11,665.72 133.61,665.78 134.11,665.83 134.61,665.89 135.11,665.95 135.61,666.00 136.11,666.06 136.61,666.12 137.12,666.18 137.62,666.23 138.12,666.29 138.62,666.35 139.12,666.40 139.62,666.46 140.12,666.52 140.62,666.58 141.13,666.63 141.63,666.69 142.13,666.75 142.63,666.80 143.13,666.86 143.63,666.92 144.13,666.98 144.63,667.03 145.14,667.09 145.64,667.15 146.14,667.20 146.64,667.26 147.14,667.32 147.64,667.38 148.14,667.43 148.64,667.49 149.15,667.55 149.65,667.61 150.15,667.66 150.65,667.72 151.15,667.78 151.65,667.83 152.15,667.89 152.65,667.95 153.16,668.01 153.66,668.06 154.16,668.12 154.66,668.18 155.16,668.23 155.66,668.29 156.16,668.35 156.66,668.41 157.17,668.46 157.67,668.52 158.17,668.58 158.67,668.63 159.17,668.69 159.67,668.75 160.17,668.81 160.67,668.86 161.18,668.92 161.68,668.98 162.18,669.03 162.68,669.09 163.18,669.15 163.68,669.21 164.18,669.26 164.68,669.32 165.19,669.38 165.69,669.43 166.19,669.49 166.69,669.55 167.19,669.61 167.69,669.66 168.19,669.72 168.69,669.78 169.20,669.83 169.70,669.89 170.20,669.95 170.70,670.01 171.20,670.06 171.70,670.12 172.20,670.18 172.70,670.24 173.21,670.29 173.71,670.35 174.21,670.41 174.71,670.46 175.21,670.52 175.71,670.58 176.21,670.64 176.71,670.69 177.22,670.75 177.72,670.81 178.22,670.86 178.72,670.92 179.22,670.98 179.72,671.04 180.22,671.09 180.72,671.15 180.72,671.15" fill="#66f810"/>
<line x1="11.30" y1="651.82" x2="180.72" y2="671.15" stroke="#66f810" stroke-width="1.4" />
<text transform="translate(185.74,677.80) scale(1.172,1)" font-size="13.24" stroke="#000" stroke-width="0.15" fill="#000">12 h</text>
<polygon points="1.70,686.30 1.70,686.30 2.20,686.36 2.70,686.42 3.20,686.47 3.70,686.53 4.20,686.59 4.71,686.65 5.21,686.71 5.71,686.76 6.21,686.82 6.71,686.88 7.21,686.94 7.71,687.00 8.21,687.05 8.71,687.11 9.21,687.17 9.71,687.23 10.22,687.29 10.72,687.34 11.22,687.40 11.72,687.46 12.22,687.52 12.72,687.58 13.22,687.63 13.72,687.69 14.22,687.75 14.72,687.81 15.22,687.87 15.72,687.92 16.23,687.98 16.73,688.04 17.23,688.10 17.73,688.16 18.23,688.21 18.73,688.27 19.23,688.33 19.73,688.39 20.23,688.45 20.73,688.50 21.23,688.56 21.74,688.62 22.24,688.68 22.74,688.74 23.24,688.79 23.74,688.85 24.24,688.91 24.74,688.97 25.24,689.03 25.74,689.08 26.24,689.14 26.74,689.20 27.25,689.26 27.75,689.32 28.25,689.37 28.75,689.43 29.25,689.49 29.75,689.55 30.25,689.61 30.75,689.66 31.25,689.72 31.75,689.78 32.25,689.84 32.76,689.90 33.26,689.95 33.76,689.90 34.26,689.47 34.76,687.46 35.26,686.87 35.76,686.61 36.26,686.64 36.76,686.68 37.26,686.87 37.76,685.89 38.26,685.43 38.77,686.21 39.27,683.94 39.77,685.41 40.27,683.13 40.77,681.02 41.27,679.09 41.77,677.20 42.27,673.70 42.77,665.97 43.27,647.35 43.77,606.44 44.28,574.28 44.78,574.40 45.28,574.77 45.78,574.03 46.28,600.89 46.78,639.81 47.28,664.84 47.78,667.53 48.28,673.68 48.78,674.35 49.28,677.06 49.79,675.77 50.29,676.49 50.79,678.34 51.29,678.93 51.79,676.90 52.29,677.22 52.79,679.26 53.29,679.28 53.79,679.00 54.29,679.62 54.79,678.81 55.29,679.90 55.80,677.52 56.30,679.44 56.80,679.42 57.30,680.52 57.80,679.85 58.30,677.92 58.80,678.89 59.30,680.45 59.80,679.60 60.30,681.36 60.80,681.56 61.31,682.24 61.81,681.44 62.31,681.76 62.81,681.11 63.31,680.65 63.81,682.47 64.31,681.87 64.81,681.19 65.31,682.46 65.81,683.36 66.31,683.16 66.82,682.74 67.32,682.73 67.82,682.17 68.32,680.65 68.82,683.97 69.32,683.07 69.82,684.67 70.32,683.34 70.82,684.43 71.32,683.47 71.82,683.34 72.33,682.43 72.83,684.05 73.33,684.85 73.83,684.06 74.33,683.67 74.83,684.38 75.33,685.97 75.83,684.18 76.33,685.66 76.83,685.90 77.33,684.17 77.83,684.70 78.34,684.16 78.84,684.58 79.34,685.48 79.84,682.19 80.34,683.26 80.84,684.16 81.34,678.70 81.84,678.59 82.34,675.60 82.84,668.42 83.34,670.87 83.85,668.17 84.35,669.22 84.85,666.84 85.35,665.50 85.85,666.55 86.35,666.45 86.85,671.44 87.35,673.41 87.85,674.69 88.35,680.93 88.85,684.94 89.36,687.00 89.86,689.27 90.36,692.23 90.86,694.51 91.36,695.24 91.86,696.74 92.36,696.80 92.86,696.85 93.36,696.91 93.86,696.97 94.36,697.03 94.87,697.09 95.37,697.14 95.87,697.20 96.37,697.26 96.87,697.32 97.37,697.38 97.87,697.43 98.37,697.49 98.87,697.55 99.37,697.61 99.87,697.67 100.37,697.72 100.88,697.78 101.38,697.84 101.88,697.90 102.38,697.96 102.88,698.01 103.38,698.07 103.88,698.13 104.38,698.19 104.88,698.25 105.38,698.30 105.88,698.36 106.39,698.42 106.89,698.48 107.39,698.54 107.89,698.59 108.39,698.65 108.89,698.71 109.39,698.77 109.89,698.83 110.39,698.88 110.89,698.94 111.39,699.00 111.90,699.06 112.40,699.12 112.90,699.17 113.40,699.23 113.90,699.29 114.40,699.35 114.90,699.41 115.40,699.46 115.90,699.52 116.40,699.58 116.90,699.64 117.41,699.70 117.91,699.75 118.41,699.81 118.91,699.87 119.41,699.93 119.91,699.99 120.41,700.04 120.91,700.10 121.41,700.16 121.91,700.22 122.41,700.28 122.91,700.33 123.42,700.39 123.92,700.45 124.42,700.51 124.92,700.57 125.42,700.62 125.92,700.68 126.42,700.74 126.92,700.80 127.42,700.86 127.92,700.91 128.42,700.97 128.93,701.03 129.43,701.09 129.93,701.14 130.43,701.20 130.93,701.26 131.43,701.32 131.93,701.38 132.43,701.43 132.93,701.49 133.43,701.55 133.93,701.61 134.44,701.67 134.94,701.72 135.44,701.78 135.94,701.84 136.44,701.90 136.94,701.96 137.44,702.01 137.94,702.07 138.44,702.13 138.94,702.19 139.44,702.25 139.94,702.30 140.45,702.36 140.95,702.42 141.45,702.48 141.95,702.54 142.45,702.59 142.95,702.65 143.45,702.71 143.95,702.77 144.45,702.83 144.95,702.88 145.45,702.94 145.96,703.00 146.46,703.06 146.96,703.12 147.46,703.17 147.96,703.23 148.46,703.29 148.96,703.35 149.46,703.41 149.96,703.46 150.46,703.52 150.96,703.58 151.47,703.64 151.97,703.70 152.47,703.75 152.97,703.81 153.47,703.87 153.97,703.93 154.47,703.99 154.97,704.04 155.47,704.10 155.97,704.16 156.47,704.22 156.98,704.28 157.48,704.33 157.98,704.39 158.48,704.45 158.98,704.51 159.48,704.57 159.98,704.62 160.48,704.68 160.98,704.74 161.48,704.80 161.98,704.86 162.48,704.91 162.99,704.97 163.49,705.03 163.99,705.09 164.49,705.15 164.99,705.20 165.49,705.26 165.99,705.32 166.49,705.38 166.99,705.44 167.49,705.49 167.99,705.55 168.50,705.61 169.00,705.67 169.50,705.73 170.00,705.78 170.50,705.84 171.00,705.90 171.00,705.90" fill="#4a1cf8"/>
<line x1="1.70" y1="686.30" x2="171.00" y2="705.90" stroke="#4a1cf8" stroke-width="1.4" />
<text transform="translate(175.06,709.07) scale(1.227,1)" font-size="13.06" stroke="#000" stroke-width="0.15" fill="#000">0 h</text>
<line x1="271.20" y1="687.60" x2="310.80" y2="545.30" stroke="#2a2a3a" stroke-width="0.9" />
<line x1="300.13" y1="690.92" x2="340.03" y2="548.52" stroke="#2a2a3a" stroke-width="0.9" />
<line x1="329.07" y1="694.23" x2="369.27" y2="551.73" stroke="#2a2a3a" stroke-width="0.9" />
<line x1="358.00" y1="697.55" x2="398.50" y2="554.95" stroke="#2a2a3a" stroke-width="0.9" />
<line x1="386.93" y1="700.87" x2="427.73" y2="558.17" stroke="#2a2a3a" stroke-width="0.9" />
<line x1="415.87" y1="704.18" x2="456.97" y2="561.38" stroke="#2a2a3a" stroke-width="0.9" />
<line x1="444.80" y1="707.50" x2="486.20" y2="564.60" stroke="#2a2a3a" stroke-width="0.9" />
<polygon points="310.80,545.30 310.80,545.30 311.30,459.42 311.80,459.33 312.30,458.91 312.80,459.57 313.31,466.44 313.81,486.55 314.31,495.04 314.81,511.60 315.31,510.95 315.81,517.95 316.31,513.15 316.81,523.94 317.31,526.44 317.82,530.05 318.32,530.82 318.82,528.44 319.32,531.39 319.82,532.49 320.32,534.02 320.82,535.59 321.32,533.40 321.83,534.18 322.33,536.51 322.83,532.52 323.33,536.37 323.83,536.54 324.33,533.56 324.83,534.56 325.33,534.38 325.83,538.28 326.34,535.44 326.84,538.43 327.34,534.89 327.84,538.51 328.34,534.30 328.84,538.48 329.34,537.47 329.84,536.41 330.34,534.57 330.85,538.76 331.35,535.77 331.85,538.60 332.35,539.09 332.85,536.58 333.35,539.75 333.85,539.40 334.35,537.24 334.85,538.78 335.36,538.26 335.86,538.32 336.36,539.04 336.86,539.05 337.36,537.67 337.86,540.63 338.36,538.13 338.86,540.75 339.37,537.93 339.87,538.03 340.37,539.52 340.87,536.96 341.37,541.21 341.87,541.26 342.37,540.08 342.87,541.84 343.37,542.38 343.88,540.63 344.38,540.55 344.88,539.54 345.38,543.09 345.88,540.68 346.38,542.02 346.88,543.04 347.38,540.33 347.88,541.34 348.39,541.74 348.89,540.43 349.39,541.58 349.89,544.22 350.39,542.66 350.89,543.38 351.39,544.36 351.89,542.03 352.39,542.12 352.90,542.00 353.40,543.70 353.90,541.79 354.40,543.64 354.90,542.11 355.40,543.06 355.90,543.30 356.40,545.21 356.91,542.00 357.41,543.05 357.91,543.11 358.41,544.26 358.91,545.63 359.41,545.91 359.91,544.38 360.41,543.69 360.91,544.08 361.42,544.32 361.92,544.03 362.42,545.93 362.92,544.28 363.42,543.54 363.92,544.43 364.42,545.35 364.92,543.74 365.42,545.69 365.93,546.01 366.43,545.40 366.93,544.19 367.43,543.86 367.93,546.65 368.43,546.31 368.93,545.84 369.43,545.59 369.93,544.40 370.44,545.67 370.94,540.64 371.44,545.44 371.94,543.99 372.44,542.39 372.94,546.72 373.44,547.43 373.94,546.03 374.45,545.32 374.95,544.26 375.45,547.01 375.95,545.33 376.45,545.05 376.95,546.56 377.45,544.92 377.95,545.12 378.45,545.84 378.96,538.71 379.46,544.42 379.96,545.34 380.46,543.51 380.96,544.80 381.46,544.12 381.96,545.56 382.46,546.71 382.96,544.59 383.47,545.15 383.97,544.66 384.47,544.57 384.97,545.44 385.47,545.19 385.97,545.55 386.47,546.86 386.97,543.77 387.47,549.12 387.98,549.03 388.48,547.19 388.98,549.70 389.48,548.04 389.98,548.47 390.48,549.43 390.98,551.00 391.48,549.64 391.99,549.07 392.49,549.83 392.99,549.80 393.49,550.48 393.99,548.87 394.49,549.13 394.99,550.28 395.49,551.43 395.99,550.54 396.50,552.17 397.00,550.68 397.50,549.85 398.00,550.94 398.50,552.40 399.00,551.37 399.50,549.82 400.00,551.36 400.50,551.58 401.01,550.18 401.51,552.13 402.01,551.26 402.51,552.90 403.01,553.33 403.51,552.77 404.01,552.56 404.51,549.75 405.01,553.37 405.52,553.06 406.02,552.28 406.52,552.86 407.02,552.48 407.52,553.59 408.02,552.33 408.52,551.76 409.02,551.84 409.53,552.30 410.03,551.90 410.53,553.81 411.03,554.20 411.53,552.24 412.03,554.32 412.53,553.13 413.03,553.96 413.53,554.95 414.04,552.89 414.54,553.45 415.04,551.26 415.54,553.41 416.04,553.73 416.54,555.65 417.04,554.33 417.54,554.37 418.04,555.62 418.55,553.75 419.05,553.44 419.55,553.62 420.05,554.27 420.55,555.25 421.05,555.45 421.55,556.78 422.05,554.42 422.55,555.67 423.06,555.91 423.56,556.71 424.06,557.16 424.56,555.04 425.06,554.96 425.56,556.39 426.06,556.17 426.56,555.36 427.07,555.11 427.57,555.56 428.07,556.70 428.57,555.38 429.07,555.77 429.57,556.87 430.07,557.82 430.57,556.40 431.07,556.38 431.58,557.61 432.08,556.42 432.58,556.49 433.08,556.92 433.58,555.63 434.08,556.55 434.58,554.49 435.08,556.56 435.58,557.40 436.09,557.50 436.59,556.26 437.09,557.47 437.59,557.35 438.09,557.21 438.59,558.76 439.09,555.42 439.59,558.77 440.09,558.80 440.60,556.29 441.10,558.19 441.60,557.74 442.10,558.70 442.60,557.97 443.10,557.58 443.60,559.31 444.10,559.37 444.61,557.65 445.11,557.29 445.61,559.53 446.11,555.47 446.61,558.82 447.11,557.31 447.61,558.67 448.11,558.15 448.61,557.48 449.12,557.80 449.62,559.10 450.12,560.03 450.62,560.08 451.12,558.67 451.62,559.89 452.12,559.50 452.62,559.24 453.12,558.09 453.63,559.70 454.13,558.69 454.63,559.97 455.13,559.09 455.63,559.42 456.13,559.02 456.63,560.52 457.13,558.67 457.63,560.86 458.14,560.20 458.64,560.97 459.14,561.02 459.64,560.01 460.14,560.58 460.64,561.11 461.14,559.64 461.64,561.30 462.15,560.10 462.65,561.34 463.15,561.27 463.65,561.01 464.15,559.30 464.65,560.61 465.15,559.61 465.65,560.59 466.15,561.79 466.66,561.03 467.16,561.62 467.66,561.96 468.16,560.31 468.66,560.59 469.16,561.91 469.66,561.75 470.16,561.27 470.66,561.27 471.17,560.27 471.67,561.76 472.17,562.20 472.67,561.99 473.17,560.64 473.67,562.21 474.17,562.27 474.67,562.26 475.17,561.82 475.68,561.94 476.18,561.94 476.68,561.44 477.18,562.59 477.68,562.17 478.18,561.03 478.68,560.71 479.18,561.53 479.69,561.86 480.19,563.34 480.69,563.39 481.19,562.29 481.69,563.50 482.19,562.77 482.69,563.19 483.19,561.62 483.69,563.02 484.20,562.44 484.70,561.95 485.20,562.26 485.70,562.24 486.20,562.36 486.20,564.60" fill="#1420ee"/>
<line x1="310.80" y1="545.30" x2="486.20" y2="564.60" stroke="#1420ee" stroke-width="1.4" />
<text transform="translate(489.26,570.70) scale(1.215,1)" font-size="13.24" stroke="#000" stroke-width="0.15" fill="#000">72 h</text>
<polygon points="300.90,580.88 300.90,580.88 301.40,516.94 301.90,517.33 302.40,517.52 302.91,517.37 303.41,517.50 303.91,531.27 304.41,544.83 304.91,553.64 305.41,560.24 305.91,566.03 306.41,566.89 306.92,568.92 307.42,569.90 307.92,568.66 308.42,571.31 308.92,569.50 309.42,570.72 309.92,570.97 310.42,569.25 310.93,571.10 311.43,570.97 311.93,569.33 312.43,570.16 312.93,570.48 313.43,569.10 313.93,571.12 314.43,569.00 314.94,567.44 315.44,569.71 315.94,570.76 316.44,571.73 316.94,570.45 317.44,572.82 317.94,571.61 318.45,570.47 318.95,572.52 319.45,572.01 319.95,570.15 320.45,571.05 320.95,572.43 321.45,572.93 321.95,573.54 322.46,570.65 322.96,573.43 323.46,569.12 323.96,572.24 324.46,571.91 324.96,572.99 325.46,572.68 325.96,573.91 326.47,573.59 326.97,572.56 327.47,571.58 327.97,572.11 328.47,573.03 328.97,573.49 329.47,574.46 329.97,573.31 330.48,572.12 330.98,575.04 331.48,572.71 331.98,573.30 332.48,575.30 332.98,572.66 333.48,573.38 333.99,574.30 334.49,574.65 334.99,574.42 335.49,574.97 335.99,573.43 336.49,572.78 336.99,573.63 337.49,572.76 338.00,576.00 338.50,574.02 339.00,575.17 339.50,573.61 340.00,576.21 340.50,571.34 341.00,575.52 341.50,574.89 342.01,574.41 342.51,576.17 343.01,577.33 343.51,575.15 344.01,574.97 344.51,574.19 345.01,576.67 345.51,577.56 346.02,576.34 346.52,575.40 347.02,577.71 347.52,575.37 348.02,577.29 348.52,578.09 349.02,575.44 349.53,576.43 350.03,578.23 350.53,576.94 351.03,578.81 351.53,577.32 352.03,578.22 352.53,578.23 353.03,579.09 353.54,579.16 354.04,577.96 354.54,578.01 355.04,577.00 355.54,577.40 356.04,579.72 356.54,579.30 357.04,579.55 357.55,577.79 358.05,578.65 358.55,580.06 359.05,577.77 359.55,579.86 360.05,578.62 360.55,579.19 361.05,581.09 361.56,579.78 362.06,580.14 362.56,580.91 363.06,580.73 363.56,580.63 364.06,581.64 364.56,581.41 365.07,580.12 365.57,580.80 366.07,580.06 366.57,579.97 367.07,579.34 367.57,579.88 368.07,581.26 368.57,579.94 369.08,581.20 369.58,580.16 370.08,582.82 370.58,580.39 371.08,581.46 371.58,582.60 372.08,583.55 372.58,582.70 373.09,580.85 373.59,583.00 374.09,583.89 374.59,581.93 375.09,582.57 375.59,583.12 376.09,583.56 376.59,583.99 377.10,581.29 377.60,585.97 378.10,583.06 378.60,585.67 379.10,586.40 379.60,584.47 380.10,585.79 380.61,585.18 381.11,586.10 381.61,584.53 382.11,585.85 382.61,586.41 383.11,584.91 383.61,585.16 384.11,586.21 384.62,585.23 385.12,587.11 385.62,587.23 386.12,586.60 386.62,587.09 387.12,585.73 387.62,587.73 388.12,585.73 388.63,588.06 389.13,587.56 389.63,587.93 390.13,587.92 390.63,586.58 391.13,587.00 391.63,587.28 392.13,588.11 392.64,587.25 393.14,585.35 393.64,588.01 394.14,586.73 394.64,588.58 395.14,586.70 395.64,587.55 396.14,588.85 396.65,589.17 397.15,586.10 397.65,587.92 398.15,587.56 398.65,589.53 399.15,588.45 399.65,588.50 400.16,588.95 400.66,588.21 401.16,589.11 401.66,590.06 402.16,590.17 402.66,590.08 403.16,588.83 403.66,588.87 404.17,589.71 404.67,589.57 405.17,591.01 405.67,589.42 406.17,589.11 406.67,590.51 407.17,590.35 407.67,590.84 408.18,591.37 408.68,590.21 409.18,589.73 409.68,591.38 410.18,591.70 410.68,590.34 411.18,591.28 411.68,591.77 412.19,591.63 412.69,591.72 413.19,590.14 413.69,592.09 414.19,591.41 414.69,589.02 415.19,590.56 415.70,592.14 416.20,590.33 416.70,590.44 417.20,591.72 417.70,591.66 418.20,590.37 418.70,591.07 419.20,592.31 419.71,592.40 420.21,590.78 420.71,592.29 421.21,591.11 421.71,591.15 422.21,591.61 422.71,591.93 423.21,592.30 423.72,591.44 424.22,591.66 424.72,592.77 425.22,592.35 425.72,593.25 426.22,592.67 426.72,592.78 427.22,592.28 427.73,593.50 428.23,593.88 428.73,593.24 429.23,594.14 429.73,593.61 430.23,592.07 430.73,593.72 431.24,594.06 431.74,593.62 432.24,592.81 432.74,594.57 433.24,592.84 433.74,593.96 434.24,593.08 434.74,594.17 435.25,593.09 435.75,593.97 436.25,594.73 436.75,594.49 437.25,593.58 437.75,594.75 438.25,593.59 438.75,594.44 439.26,594.89 439.76,594.67 440.26,595.14 440.76,594.26 441.26,593.34 441.76,594.14 442.26,595.29 442.76,594.27 443.27,593.85 443.77,593.94 444.27,594.76 444.77,595.34 445.27,595.52 445.77,595.29 446.27,595.91 446.78,595.55 447.28,595.43 447.78,595.11 448.28,595.24 448.78,596.57 449.28,595.46 449.78,596.62 450.28,595.42 450.79,596.10 451.29,596.88 451.79,594.88 452.29,596.44 452.79,596.68 453.29,595.73 453.79,596.39 454.29,595.07 454.80,595.89 455.30,596.46 455.80,596.85 456.30,595.48 456.80,595.26 457.30,596.49 457.80,596.90 458.30,597.46 458.81,597.34 459.31,597.05 459.81,597.07 460.31,596.90 460.81,596.83 461.31,596.87 461.81,595.96 462.32,597.50 462.82,597.64 463.32,596.80 463.82,596.23 464.32,598.19 464.82,597.47 465.32,597.82 465.82,596.99 466.33,598.26 466.83,598.12 467.33,597.73 467.83,598.82 468.33,596.88 468.83,597.32 469.33,598.81 469.83,596.86 470.34,598.13 470.84,598.46 471.34,598.85 471.84,598.74 472.34,597.79 472.84,597.69 473.34,598.71 473.84,598.30 474.35,597.94 474.85,599.00 475.35,599.40 475.85,599.73 475.85,600.33" fill="#fcfc00"/>
<line x1="300.90" y1="580.88" x2="475.85" y2="600.33" stroke="#fcfc00" stroke-width="1.4" />
<text transform="translate(481.04,607.57) scale(1.212,1)" font-size="13.06" stroke="#000" stroke-width="0.15" fill="#000">48 h</text>
<polygon points="291.00,616.45 291.00,616.45 291.50,593.92 292.00,598.38 292.50,604.91 293.00,607.02 293.50,604.00 294.00,610.17 294.50,610.52 295.00,613.42 295.50,614.09 296.00,613.31 296.50,614.18 297.00,613.27 297.50,614.47 298.00,613.61 298.50,614.63 299.00,614.32 299.50,615.39 300.00,615.57 300.50,615.29 301.00,615.69 301.50,616.02 302.00,615.78 302.50,615.53 303.00,615.09 303.50,615.65 304.00,614.23 304.50,616.33 305.00,615.40 305.50,616.17 306.00,615.55 306.50,614.83 307.00,616.76 307.50,615.35 308.00,616.37 308.50,615.00 309.00,616.11 309.50,615.22 310.00,616.78 310.50,615.90 311.00,614.54 311.50,614.52 312.00,612.05 312.50,613.79 313.00,613.79 313.50,613.40 314.00,613.29 314.50,615.14 315.00,614.32 315.50,614.74 316.00,615.38 316.50,614.83 317.00,614.44 317.50,613.21 318.00,613.70 318.50,614.71 319.00,613.66 319.50,613.42 320.00,613.42 320.50,613.60 321.00,615.24 321.50,614.55 322.00,615.53 322.50,614.41 323.00,614.04 323.50,615.00 324.00,614.67 324.50,615.29 325.00,614.37 325.50,614.99 326.00,613.58 326.50,614.85 327.00,612.89 327.50,615.12 328.00,612.77 328.50,613.82 329.00,613.80 329.50,613.88 330.00,613.18 330.50,614.22 331.00,615.39 331.50,613.77 332.00,613.93 332.50,614.84 333.00,614.29 333.50,612.30 334.00,614.92 334.50,614.57 335.00,615.95 335.50,613.57 336.00,615.65 336.50,613.76 337.00,614.20 337.50,613.93 338.00,616.22 338.50,615.10 339.00,614.66 339.50,615.67 340.00,617.06 340.50,615.27 341.00,615.08 341.50,615.95 342.00,617.02 342.50,613.80 343.00,615.48 343.50,617.14 344.00,615.46 344.50,616.43 345.00,615.81 345.50,617.01 346.00,617.27 346.50,615.27 347.00,617.32 347.50,616.75 348.00,618.39 348.50,618.09 349.00,616.28 349.50,618.29 350.00,616.69 350.50,618.12 351.00,618.31 351.50,617.17 352.00,618.80 352.50,617.88 353.00,618.90 353.50,617.53 354.00,618.74 354.50,617.36 355.00,618.34 355.50,618.23 356.00,617.63 356.50,617.12 357.00,618.19 357.50,616.83 358.00,617.54 358.50,617.93 359.00,617.12 359.50,617.20 360.00,618.38 360.50,618.60 361.00,618.02 361.50,619.07 362.00,617.91 362.50,615.31 363.00,615.57 363.50,616.48 364.00,616.34 364.50,615.48 365.00,614.92 365.50,612.91 366.00,609.66 366.50,615.04 367.00,613.78 367.50,612.46 368.00,611.38 368.50,614.26 369.00,612.75 369.50,613.39 370.00,613.29 370.50,612.89 371.00,613.48 371.50,614.68 372.00,615.75 372.50,618.41 373.00,617.97 373.50,619.20 374.00,619.89 374.50,620.74 375.00,619.12 375.50,620.66 376.00,621.10 376.50,621.62 377.00,621.44 377.50,624.61 378.00,622.59 378.50,625.14 379.00,624.18 379.50,625.48 380.00,625.31 380.50,625.84 381.00,625.77 381.50,625.68 382.00,625.90 382.50,626.13 383.00,625.66 383.50,625.76 384.00,626.30 384.50,626.35 385.00,625.96 385.50,625.88 386.00,625.20 386.50,626.58 387.00,626.48 387.50,626.54 388.00,626.60 388.50,626.65 389.00,626.71 389.50,626.77 390.00,626.82 390.50,626.88 391.00,626.93 391.50,626.99 392.00,627.05 392.50,627.10 393.00,627.16 393.50,627.22 394.00,627.27 394.50,627.33 395.00,627.39 395.50,627.44 396.00,627.50 396.50,627.56 397.00,627.61 397.50,627.67 398.00,627.73 398.50,627.78 399.00,627.84 399.50,627.89 400.00,627.95 400.50,628.01 401.00,628.06 401.50,628.12 402.00,628.18 402.50,628.23 403.00,628.29 403.50,628.35 404.00,628.40 404.50,628.46 405.00,628.52 405.50,628.57 406.00,628.63 406.50,628.69 407.00,628.74 407.50,628.80 408.00,628.86 408.50,628.91 409.00,628.97 409.50,629.02 410.00,629.08 410.50,629.14 411.00,629.19 411.50,629.25 412.00,629.31 412.50,629.36 413.00,629.42 413.50,629.48 414.00,629.53 414.50,629.59 415.00,629.65 415.50,629.70 416.00,629.76 416.50,629.82 417.00,629.87 417.50,629.93 418.00,629.98 418.50,630.04 419.00,630.10 419.50,630.15 420.00,630.21 420.50,630.27 421.00,630.32 421.50,630.38 422.00,630.44 422.50,630.49 423.00,630.55 423.50,630.61 424.00,630.66 424.50,630.72 425.00,630.78 425.50,630.83 426.00,630.89 426.50,630.94 427.00,631.00 427.50,631.06 428.00,631.11 428.50,631.17 429.00,631.23 429.50,631.28 430.00,631.34 430.50,631.40 431.00,631.45 431.50,631.51 432.00,631.57 432.50,631.62 433.00,631.68 433.50,631.74 434.00,631.79 434.50,631.85 435.00,631.90 435.50,631.96 436.00,632.02 436.50,632.07 437.00,632.13 437.50,632.19 438.00,632.24 438.50,632.30 439.00,632.36 439.50,632.41 440.00,632.47 440.50,632.53 441.00,632.58 441.50,632.64 442.00,632.70 442.50,632.75 443.00,632.81 443.50,632.87 444.00,632.92 444.50,632.98 445.00,633.03 445.50,633.09 446.00,633.15 446.50,633.20 447.00,633.26 447.50,633.32 448.00,633.37 448.50,633.43 449.00,633.49 449.50,633.54 450.00,633.60 450.50,633.66 451.00,633.71 451.50,633.77 452.00,633.83 452.50,633.88 453.00,633.94 453.50,633.99 454.00,634.05 454.50,634.11 455.00,634.16 455.50,634.22 456.00,634.28 456.50,634.33 457.00,634.39 457.50,634.45 458.00,634.50 458.50,634.56 459.00,634.62 459.50,634.67 460.00,634.73 460.50,634.79 461.00,634.84 461.50,634.90 462.00,634.95 462.50,635.01 463.00,635.07 463.50,635.12 464.00,635.18 464.50,635.24 465.00,635.29 465.50,635.35 465.50,636.05" fill="#fa0208"/>
<line x1="291.00" y1="616.45" x2="465.50" y2="636.05" stroke="#fa0208" stroke-width="1.4" />
<text transform="translate(470.40,642.20) scale(1.213,1)" font-size="13.24" stroke="#000" stroke-width="0.15" fill="#000">24 h</text>
<polygon points="281.10,652.02 281.10,652.02 281.60,648.32 282.10,648.56 282.60,648.80 283.10,649.50 283.60,648.73 284.10,650.08 284.60,650.02 285.10,649.95 285.60,649.45 286.10,648.71 286.60,648.04 287.10,649.07 287.60,649.32 288.10,648.52 288.60,649.38 289.10,649.13 289.60,649.25 290.10,650.14 290.60,650.12 291.10,648.98 291.60,649.10 292.10,649.54 292.60,649.74 293.10,648.27 293.60,646.38 294.10,648.01 294.60,648.88 295.10,649.59 295.60,648.96 296.10,649.23 296.60,648.44 297.10,649.94 297.60,648.69 298.10,648.59 298.61,650.03 299.11,650.56 299.61,648.83 300.11,650.12 300.61,649.05 301.11,650.86 301.61,650.94 302.11,649.78 302.61,647.37 303.11,649.42 303.61,651.27 304.11,650.33 304.61,649.03 305.11,651.27 305.61,650.45 306.11,650.66 306.61,649.88 307.11,649.62 307.61,649.73 308.11,650.20 308.61,651.10 309.11,650.56 309.61,651.45 310.11,650.72 310.61,651.23 311.11,648.66 311.61,649.61 312.11,647.65 312.61,647.77 313.11,644.03 313.61,648.21 314.11,647.62 314.61,647.52 315.11,646.06 315.61,646.44 316.11,644.86 316.61,645.42 317.11,643.98 317.61,644.62 318.11,645.76 318.61,644.56 319.11,645.96 319.61,644.75 320.11,644.35 320.61,643.73 321.11,642.39 321.61,643.52 322.11,641.44 322.61,639.84 323.11,643.81 323.61,644.84 324.11,643.14 324.61,640.75 325.11,646.04 325.61,645.31 326.11,646.89 326.61,645.72 327.11,644.94 327.61,646.93 328.11,646.12 328.61,645.97 329.11,648.02 329.61,649.01 330.11,648.57 330.61,648.83 331.11,648.42 331.61,649.26 332.11,648.88 332.61,650.14 333.11,648.43 333.62,649.55 334.12,649.83 334.62,649.01 335.12,647.75 335.62,651.03 336.12,651.62 336.62,651.49 337.12,650.20 337.62,651.46 338.12,652.58 338.62,653.14 339.12,648.96 339.62,653.63 340.12,653.82 340.62,653.58 341.12,654.44 341.62,653.25 342.12,652.29 342.62,652.69 343.12,652.17 343.62,654.53 344.12,654.19 344.62,654.66 345.12,654.20 345.62,655.12 346.12,654.01 346.62,654.08 347.12,654.81 347.62,653.90 348.12,653.31 348.62,653.51 349.12,652.06 349.62,654.50 350.12,654.53 350.62,652.25 351.12,653.44 351.62,652.62 352.12,650.85 352.62,650.37 353.12,648.14 353.62,643.10 354.12,639.38 354.62,635.22 355.12,632.86 355.62,631.81 356.12,628.94 356.62,626.02 357.12,623.47 357.62,622.80 358.12,620.35 358.62,622.77 359.12,623.34 359.62,625.42 360.12,626.01 360.62,628.09 361.12,629.59 361.62,634.28 362.12,636.60 362.62,638.12 363.12,638.13 363.62,644.76 364.12,646.83 364.62,649.27 365.12,649.92 365.62,653.79 366.12,655.04 366.62,658.46 367.12,660.54 367.62,660.25 368.12,660.64 368.63,661.36 369.13,660.74 369.63,661.47 370.13,660.43 370.63,660.48 371.13,661.49 371.63,661.55 372.13,661.60 372.63,661.66 373.13,661.72 373.63,661.78 374.13,661.83 374.63,661.89 375.13,661.95 375.63,662.00 376.13,662.06 376.63,662.12 377.13,662.18 377.63,662.23 378.13,662.29 378.63,662.35 379.13,662.40 379.63,662.46 380.13,662.52 380.63,662.57 381.13,662.63 381.63,662.69 382.13,662.75 382.63,662.80 383.13,662.86 383.63,662.92 384.13,662.97 384.63,663.03 385.13,663.09 385.63,663.14 386.13,663.20 386.63,663.26 387.13,663.32 387.63,663.37 388.13,663.43 388.63,663.49 389.13,663.54 389.63,663.60 390.13,663.66 390.63,663.72 391.13,663.77 391.63,663.83 392.13,663.89 392.63,663.94 393.13,664.00 393.63,664.06 394.13,664.11 394.63,664.17 395.13,664.23 395.63,664.29 396.13,664.34 396.63,664.40 397.13,664.46 397.63,664.51 398.13,664.57 398.63,664.63 399.13,664.69 399.63,664.74 400.13,664.80 400.63,664.86 401.13,664.91 401.63,664.97 402.13,665.03 402.63,665.08 403.14,665.14 403.64,665.20 404.14,665.26 404.64,665.31 405.14,665.37 405.64,665.43 406.14,665.48 406.64,665.54 407.14,665.60 407.64,665.66 408.14,665.71 408.64,665.77 409.14,665.83 409.64,665.88 410.14,665.94 410.64,666.00 411.14,666.05 411.64,666.11 412.14,666.17 412.64,666.23 413.14,666.28 413.64,666.34 414.14,666.40 414.64,666.45 415.14,666.51 415.64,666.57 416.14,666.63 416.64,666.68 417.14,666.74 417.64,666.80 418.14,666.85 418.64,666.91 419.14,666.97 419.64,667.02 420.14,667.08 420.64,667.14 421.14,667.20 421.64,667.25 422.14,667.31 422.64,667.37 423.14,667.42 423.64,667.48 424.14,667.54 424.64,667.59 425.14,667.65 425.64,667.71 426.14,667.77 426.64,667.82 427.14,667.88 427.64,667.94 428.14,667.99 428.64,668.05 429.14,668.11 429.64,668.17 430.14,668.22 430.64,668.28 431.14,668.34 431.64,668.39 432.14,668.45 432.64,668.51 433.14,668.56 433.64,668.62 434.14,668.68 434.64,668.74 435.14,668.79 435.64,668.85 436.14,668.91 436.64,668.96 437.14,669.02 437.64,669.08 438.15,669.14 438.65,669.19 439.15,669.25 439.65,669.31 440.15,669.36 440.65,669.42 441.15,669.48 441.65,669.53 442.15,669.59 442.65,669.65 443.15,669.71 443.65,669.76 444.15,669.82 444.65,669.88 445.15,669.93 445.65,669.99 446.15,670.05 446.65,670.11 447.15,670.16 447.65,670.22 448.15,670.28 448.65,670.33 449.15,670.39 449.65,670.45 450.15,670.50 450.65,670.56 451.15,670.62 451.65,670.68 452.15,670.73 452.65,670.79 453.15,670.85 453.65,670.90 454.15,670.96 454.65,671.02 455.15,671.07 455.15,671.77" fill="#66f810"/>
<line x1="281.10" y1="652.02" x2="455.15" y2="671.77" stroke="#66f810" stroke-width="1.4" />
<text transform="translate(458.94,677.70) scale(1.172,1)" font-size="13.24" stroke="#000" stroke-width="0.15" fill="#000">12 h</text>
<polygon points="271.20,687.60 271.20,687.60 271.70,687.66 272.20,687.71 272.70,687.77 273.20,687.83 273.70,687.89 274.20,687.94 274.70,688.00 275.20,688.06 275.70,688.12 276.20,688.17 276.70,688.23 277.20,688.29 277.70,688.35 278.20,688.40 278.70,688.46 279.20,688.52 279.70,688.57 280.21,688.63 280.71,688.69 281.21,688.75 281.71,688.80 282.21,688.86 282.71,688.92 283.21,688.98 283.71,689.03 284.21,689.09 284.71,689.15 285.21,689.21 285.71,689.26 286.21,689.32 286.71,689.38 287.21,689.44 287.71,689.49 288.21,689.55 288.71,689.61 289.21,689.66 289.71,689.72 290.21,689.78 290.71,689.84 291.21,689.89 291.71,689.95 292.21,690.01 292.71,690.07 293.21,690.12 293.71,690.18 294.21,690.24 294.71,690.30 295.21,690.35 295.71,690.41 296.21,690.47 296.71,690.52 297.21,690.58 297.72,690.64 298.22,690.70 298.72,690.75 299.22,690.81 299.72,690.87 300.22,690.93 300.72,690.98 301.22,691.04 301.72,691.10 302.22,691.16 302.72,691.21 303.22,691.27 303.72,691.33 304.22,691.39 304.72,691.44 305.22,691.50 305.72,691.56 306.22,691.61 306.72,691.67 307.22,691.68 307.72,689.60 308.22,688.82 308.72,688.81 309.22,685.73 309.72,683.51 310.22,682.22 310.72,680.77 311.22,664.73 311.72,653.46 312.22,619.56 312.72,605.92 313.22,605.59 313.72,605.64 314.22,605.67 314.73,615.29 315.23,652.89 315.73,660.94 316.23,667.58 316.73,672.02 317.23,675.39 317.73,677.79 318.23,679.65 318.73,677.57 319.23,678.84 319.73,679.37 320.23,677.93 320.73,680.96 321.23,679.19 321.73,680.66 322.23,679.75 322.73,678.83 323.23,679.39 323.73,679.77 324.23,681.52 324.73,679.76 325.23,680.32 325.73,680.91 326.23,679.18 326.73,680.79 327.23,680.77 327.73,679.43 328.23,679.48 328.73,679.77 329.23,681.08 329.73,681.90 330.23,680.62 330.73,681.18 331.23,680.14 331.73,682.97 332.24,682.29 332.74,681.92 333.24,681.98 333.74,683.74 334.24,683.00 334.74,681.95 335.24,683.78 335.74,682.61 336.24,681.14 336.74,679.71 337.24,683.66 337.74,681.95 338.24,681.70 338.74,683.31 339.24,681.74 339.74,683.31 340.24,682.25 340.74,683.93 341.24,684.42 341.74,682.63 342.24,682.35 342.74,682.82 343.24,682.81 343.74,684.14 344.24,683.04 344.74,678.33 345.24,681.39 345.74,678.24 346.24,674.91 346.74,675.39 347.24,672.98 347.74,668.30 348.24,668.25 348.74,664.17 349.24,662.36 349.75,656.31 350.25,657.40 350.75,655.65 351.25,654.04 351.75,655.14 352.25,656.74 352.75,660.47 353.25,663.53 353.75,666.02 354.25,669.73 354.75,672.86 355.25,677.33 355.75,681.00 356.25,682.67 356.75,687.04 357.25,688.55 357.75,690.83 358.25,693.19 358.75,696.87 359.25,697.69 359.75,697.75 360.25,697.81 360.75,697.87 361.25,697.92 361.75,697.98 362.25,698.04 362.75,698.09 363.25,698.15 363.75,698.21 364.25,698.27 364.75,698.32 365.25,698.38 365.75,698.44 366.25,698.50 366.76,698.55 367.26,698.61 367.76,698.67 368.26,698.73 368.76,698.78 369.26,698.84 369.76,698.90 370.26,698.96 370.76,699.01 371.26,699.07 371.76,699.13 372.26,699.18 372.76,699.24 373.26,699.30 373.76,699.36 374.26,699.41 374.76,699.47 375.26,699.53 375.76,699.59 376.26,699.64 376.76,699.70 377.26,699.76 377.76,699.82 378.26,699.87 378.76,699.93 379.26,699.99 379.76,700.04 380.26,700.10 380.76,700.16 381.26,700.22 381.76,700.27 382.26,700.33 382.76,700.39 383.26,700.45 383.76,700.50 384.27,700.56 384.77,700.62 385.27,700.68 385.77,700.73 386.27,700.79 386.77,700.85 387.27,700.90 387.77,700.96 388.27,701.02 388.77,701.08 389.27,701.13 389.77,701.19 390.27,701.25 390.77,701.31 391.27,701.36 391.77,701.42 392.27,701.48 392.77,701.54 393.27,701.59 393.77,701.65 394.27,701.71 394.77,701.77 395.27,701.82 395.77,701.88 396.27,701.94 396.77,701.99 397.27,702.05 397.77,702.11 398.27,702.17 398.77,702.22 399.27,702.28 399.77,702.34 400.27,702.40 400.77,702.45 401.27,702.51 401.78,702.57 402.28,702.63 402.78,702.68 403.28,702.74 403.78,702.80 404.28,702.85 404.78,702.91 405.28,702.97 405.78,703.03 406.28,703.08 406.78,703.14 407.28,703.20 407.78,703.26 408.28,703.31 408.78,703.37 409.28,703.43 409.78,703.49 410.28,703.54 410.78,703.60 411.28,703.66 411.78,703.71 412.28,703.77 412.78,703.83 413.28,703.89 413.78,703.94 414.28,704.00 414.78,704.06 415.28,704.12 415.78,704.17 416.28,704.23 416.78,704.29 417.28,704.35 417.78,704.40 418.28,704.46 418.79,704.52 419.29,704.58 419.79,704.63 420.29,704.69 420.79,704.75 421.29,704.80 421.79,704.86 422.29,704.92 422.79,704.98 423.29,705.03 423.79,705.09 424.29,705.15 424.79,705.21 425.29,705.26 425.79,705.32 426.29,705.38 426.79,705.44 427.29,705.49 427.79,705.55 428.29,705.61 428.79,705.66 429.29,705.72 429.79,705.78 430.29,705.84 430.79,705.89 431.29,705.95 431.79,706.01 432.29,706.07 432.79,706.12 433.29,706.18 433.79,706.24 434.29,706.30 434.79,706.35 435.29,706.41 435.79,706.47 436.30,706.53 436.80,706.58 437.30,706.64 437.80,706.70 438.30,706.75 438.80,706.81 439.30,706.87 439.80,706.93 440.30,706.98 440.80,707.04 441.30,707.10 441.80,707.16 442.30,707.21 442.80,707.27 443.30,707.33 443.80,707.39 444.30,707.44 444.80,707.50 444.80,707.50" fill="#4a1cf8"/>
<line x1="271.20" y1="687.60" x2="444.80" y2="707.50" stroke="#4a1cf8" stroke-width="1.4" />
<text transform="translate(453.26,712.07) scale(1.227,1)" font-size="13.06" stroke="#000" stroke-width="0.15" fill="#000">0 h</text>
<text transform="translate(-1.04,478.10) scale(0.978,1)" font-size="29.38" font-weight="bold" fill="#000">D</text>
<text transform="translate(274.27,478.40) scale(0.910,1)" font-size="29.82" font-weight="bold" fill="#000">E</text>
<text transform="translate(33.48,708.20) scale(1.389,1)" font-size="11.76" fill="#000">2N</text>
<text transform="translate(68.42,709.80) scale(1.366,1)" font-size="12.36" fill="#000">4N</text>
<text transform="translate(307.21,708.80) scale(1.304,1)" font-size="12.19" fill="#000">2N</text>
<text transform="translate(340.45,711.90) scale(1.240,1)" font-size="12.65" fill="#000">4N</text>
<text transform="translate(39.65,741.30) scale(1.060,1)" font-size="19.93" font-weight="bold" fill="#000">CEM</text>
<text transform="translate(286.66,741.22) scale(1.104,1)" font-size="18.93" font-weight="bold" fill="#000">CEM/VLB100</text>
</svg>
</body></html>
